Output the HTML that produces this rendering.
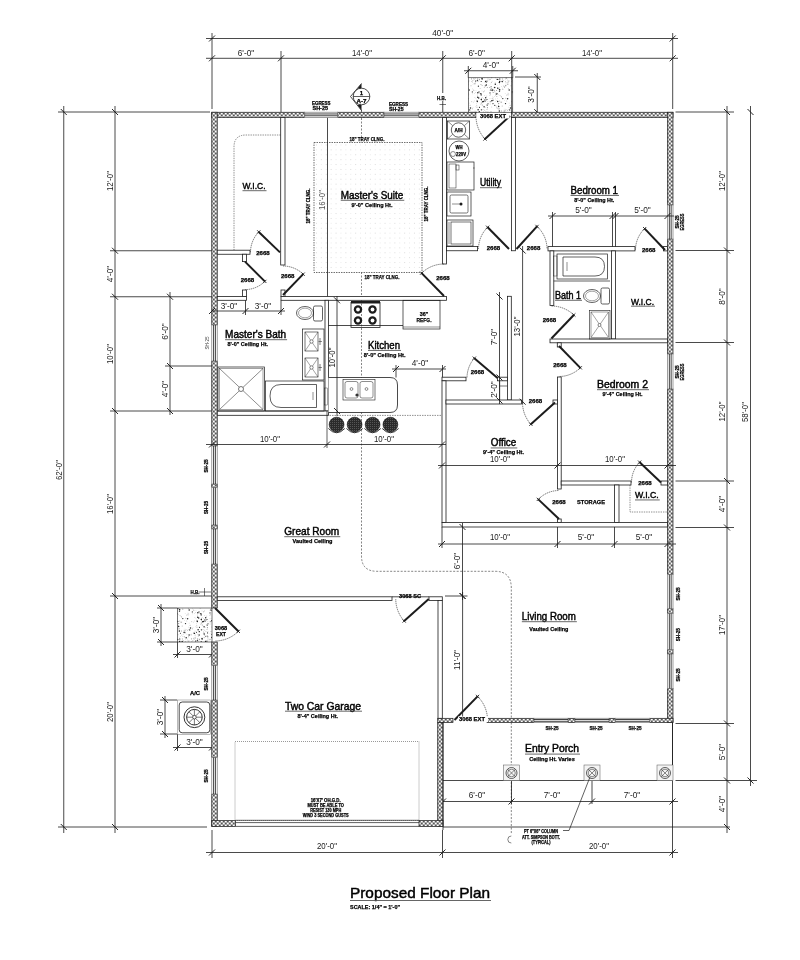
<!DOCTYPE html>
<html><head><meta charset="utf-8"><title>Proposed Floor Plan</title>
<style>html,body{margin:0;padding:0;background:#fff;}svg{display:block;filter:grayscale(1);}text{font-family:"Liberation Sans",sans-serif;}</style>
</head><body>
<svg width="800" height="960" viewBox="0 0 800 960">
<defs>
<pattern id="hatch" patternUnits="userSpaceOnUse" width="4" height="4" x="1.75" y="1.5">
<rect width="4" height="4" fill="#2a2a2a"/>
<circle cx="0" cy="0" r="1.25" fill="#fff"/><circle cx="4" cy="0" r="1.25" fill="#fff"/><circle cx="0" cy="4" r="1.25" fill="#fff"/><circle cx="4" cy="4" r="1.25" fill="#fff"/><circle cx="2" cy="2" r="1.25" fill="#fff"/>
</pattern>
<pattern id="stip" patternUnits="userSpaceOnUse" width="40" height="40">
<rect width="40" height="40" fill="#fff"/><circle cx="9.5" cy="21.8" r="0.4" fill="#aaa"/><circle cx="36.6" cy="19.0" r="0.3" fill="#aaa"/><circle cx="24.2" cy="36.4" r="0.5" fill="#aaa"/><circle cx="10.4" cy="9.4" r="0.5" fill="#aaa"/><circle cx="21.6" cy="22.0" r="0.5" fill="#aaa"/><circle cx="25.6" cy="6.0" r="0.35" fill="#aaa"/><circle cx="34.7" cy="20.9" r="0.3" fill="#aaa"/><circle cx="26.9" cy="2.6" r="0.3" fill="#aaa"/><circle cx="12.1" cy="1.2" r="0.4" fill="#aaa"/><circle cx="18.9" cy="28.8" r="0.5" fill="#aaa"/><circle cx="28.6" cy="36.8" r="0.5" fill="#aaa"/><circle cx="29.1" cy="23.1" r="0.35" fill="#aaa"/><circle cx="35.2" cy="3.9" r="0.35" fill="#aaa"/><circle cx="19.8" cy="10.3" r="0.5" fill="#aaa"/><circle cx="31.2" cy="34.2" r="0.5" fill="#aaa"/><circle cx="20.3" cy="15.4" r="0.4" fill="#aaa"/><circle cx="21.4" cy="16.3" r="0.35" fill="#aaa"/><circle cx="36.2" cy="27.3" r="0.3" fill="#aaa"/><circle cx="34.3" cy="39.6" r="0.35" fill="#aaa"/><circle cx="27.9" cy="13.1" r="0.3" fill="#aaa"/><circle cx="28.6" cy="8.4" r="0.4" fill="#aaa"/><circle cx="11.4" cy="2.5" r="0.5" fill="#aaa"/><circle cx="3.5" cy="32.0" r="0.5" fill="#aaa"/><circle cx="35.9" cy="0.8" r="0.5" fill="#aaa"/><circle cx="30.8" cy="34.9" r="0.3" fill="#aaa"/><circle cx="24.2" cy="30.5" r="0.5" fill="#aaa"/><circle cx="28.7" cy="13.2" r="0.4" fill="#aaa"/><circle cx="20.2" cy="39.9" r="0.4" fill="#aaa"/><circle cx="0.3" cy="4.3" r="0.3" fill="#aaa"/><circle cx="38.0" cy="38.9" r="0.4" fill="#aaa"/><circle cx="24.4" cy="6.2" r="0.3" fill="#aaa"/><circle cx="39.2" cy="13.6" r="0.4" fill="#aaa"/><circle cx="38.3" cy="35.9" r="0.5" fill="#aaa"/><circle cx="15.1" cy="34.8" r="0.5" fill="#aaa"/><circle cx="25.8" cy="23.8" r="0.3" fill="#aaa"/><circle cx="24.8" cy="37.6" r="0.4" fill="#aaa"/><circle cx="17.2" cy="28.8" r="0.35" fill="#aaa"/><circle cx="37.5" cy="17.5" r="0.4" fill="#aaa"/><circle cx="20.8" cy="21.9" r="0.3" fill="#aaa"/><circle cx="31.5" cy="39.5" r="0.4" fill="#aaa"/><circle cx="0.8" cy="24.6" r="0.35" fill="#aaa"/><circle cx="2.4" cy="25.1" r="0.5" fill="#aaa"/><circle cx="14.1" cy="36.7" r="0.4" fill="#aaa"/><circle cx="29.5" cy="0.9" r="0.3" fill="#aaa"/><circle cx="38.2" cy="0.9" r="0.4" fill="#aaa"/><circle cx="10.0" cy="18.3" r="0.4" fill="#aaa"/><circle cx="7.1" cy="7.4" r="0.4" fill="#aaa"/><circle cx="33.8" cy="10.6" r="0.5" fill="#aaa"/><circle cx="4.2" cy="32.5" r="0.35" fill="#aaa"/><circle cx="12.4" cy="8.9" r="0.4" fill="#aaa"/><circle cx="9.5" cy="7.5" r="0.5" fill="#aaa"/><circle cx="26.0" cy="3.9" r="0.4" fill="#aaa"/><circle cx="38.0" cy="27.0" r="0.35" fill="#aaa"/><circle cx="17.5" cy="34.2" r="0.35" fill="#aaa"/><circle cx="3.2" cy="29.7" r="0.35" fill="#aaa"/><circle cx="35.4" cy="18.0" r="0.35" fill="#aaa"/><circle cx="31.5" cy="1.4" r="0.35" fill="#aaa"/><circle cx="12.6" cy="33.4" r="0.35" fill="#aaa"/><circle cx="34.5" cy="13.6" r="0.3" fill="#aaa"/><circle cx="32.3" cy="13.8" r="0.35" fill="#aaa"/><circle cx="16.9" cy="20.7" r="0.4" fill="#aaa"/><circle cx="18.6" cy="25.4" r="0.4" fill="#aaa"/><circle cx="16.8" cy="16.4" r="0.5" fill="#aaa"/><circle cx="6.2" cy="0.2" r="0.5" fill="#aaa"/><circle cx="22.4" cy="39.4" r="0.35" fill="#aaa"/><circle cx="1.3" cy="18.3" r="0.4" fill="#aaa"/><circle cx="21.8" cy="35.6" r="0.3" fill="#aaa"/><circle cx="34.3" cy="38.8" r="0.3" fill="#aaa"/><circle cx="32.4" cy="1.8" r="0.35" fill="#aaa"/><circle cx="35.9" cy="36.0" r="0.3" fill="#aaa"/><circle cx="0.5" cy="29.8" r="0.35" fill="#aaa"/><circle cx="20.1" cy="9.6" r="0.3" fill="#aaa"/><circle cx="21.0" cy="16.6" r="0.3" fill="#aaa"/><circle cx="13.7" cy="10.1" r="0.5" fill="#aaa"/><circle cx="32.5" cy="2.5" r="0.35" fill="#aaa"/><circle cx="7.9" cy="21.4" r="0.3" fill="#aaa"/><circle cx="6.9" cy="31.7" r="0.35" fill="#aaa"/><circle cx="32.9" cy="0.3" r="0.5" fill="#aaa"/><circle cx="2.0" cy="10.9" r="0.4" fill="#aaa"/><circle cx="24.7" cy="20.8" r="0.3" fill="#aaa"/><circle cx="18.9" cy="31.1" r="0.3" fill="#aaa"/><circle cx="34.3" cy="31.0" r="0.3" fill="#aaa"/><circle cx="5.0" cy="2.7" r="0.3" fill="#aaa"/><circle cx="34.2" cy="3.4" r="0.5" fill="#aaa"/><circle cx="12.6" cy="12.6" r="0.4" fill="#aaa"/><circle cx="15.4" cy="15.6" r="0.4" fill="#aaa"/><circle cx="14.4" cy="7.6" r="0.4" fill="#aaa"/><circle cx="17.1" cy="5.1" r="0.3" fill="#aaa"/><circle cx="28.6" cy="15.2" r="0.3" fill="#aaa"/><circle cx="22.7" cy="1.7" r="0.5" fill="#aaa"/><circle cx="24.2" cy="31.3" r="0.5" fill="#aaa"/><circle cx="25.5" cy="1.7" r="0.5" fill="#aaa"/><circle cx="2.1" cy="25.1" r="0.4" fill="#aaa"/><circle cx="16.8" cy="27.8" r="0.5" fill="#aaa"/><circle cx="0.7" cy="8.7" r="0.4" fill="#aaa"/><circle cx="27.8" cy="2.9" r="0.5" fill="#aaa"/><circle cx="9.0" cy="5.2" r="0.3" fill="#aaa"/><circle cx="37.5" cy="15.0" r="0.4" fill="#aaa"/><circle cx="4.9" cy="27.6" r="0.5" fill="#aaa"/><circle cx="26.7" cy="29.3" r="0.3" fill="#aaa"/><circle cx="32.5" cy="28.7" r="0.5" fill="#aaa"/><circle cx="5.7" cy="31.0" r="0.3" fill="#aaa"/><circle cx="21.1" cy="22.6" r="0.5" fill="#aaa"/><circle cx="7.2" cy="0.9" r="0.3" fill="#aaa"/><circle cx="1.0" cy="4.6" r="0.5" fill="#aaa"/><circle cx="33.4" cy="38.1" r="0.4" fill="#aaa"/><circle cx="31.9" cy="1.5" r="0.35" fill="#aaa"/><circle cx="4.3" cy="30.0" r="0.3" fill="#aaa"/><circle cx="22.0" cy="34.8" r="0.35" fill="#aaa"/><circle cx="33.1" cy="9.7" r="0.35" fill="#aaa"/><circle cx="25.8" cy="18.2" r="0.5" fill="#aaa"/><circle cx="10.1" cy="24.0" r="0.4" fill="#aaa"/><circle cx="22.3" cy="38.7" r="0.5" fill="#aaa"/><circle cx="20.0" cy="38.9" r="0.5" fill="#aaa"/><circle cx="33.7" cy="38.7" r="0.5" fill="#aaa"/><circle cx="27.6" cy="30.2" r="0.5" fill="#aaa"/><circle cx="6.2" cy="16.0" r="0.35" fill="#aaa"/><circle cx="6.5" cy="19.9" r="0.5" fill="#aaa"/><circle cx="36.7" cy="20.7" r="0.5" fill="#aaa"/><circle cx="23.5" cy="34.3" r="0.35" fill="#aaa"/><circle cx="10.7" cy="8.0" r="0.4" fill="#aaa"/><circle cx="37.4" cy="34.1" r="0.4" fill="#aaa"/><circle cx="26.9" cy="34.2" r="0.4" fill="#aaa"/><circle cx="35.6" cy="12.3" r="0.4" fill="#aaa"/><circle cx="19.2" cy="15.3" r="0.35" fill="#aaa"/><circle cx="22.8" cy="9.6" r="0.5" fill="#aaa"/><circle cx="31.0" cy="5.7" r="0.5" fill="#aaa"/><circle cx="28.1" cy="8.2" r="0.3" fill="#aaa"/><circle cx="19.3" cy="28.8" r="0.5" fill="#aaa"/><circle cx="31.3" cy="35.3" r="0.3" fill="#aaa"/><circle cx="18.7" cy="9.2" r="0.35" fill="#aaa"/><circle cx="25.9" cy="31.1" r="0.3" fill="#aaa"/><circle cx="38.3" cy="34.2" r="0.35" fill="#aaa"/><circle cx="35.6" cy="31.0" r="0.35" fill="#aaa"/><circle cx="7.5" cy="28.2" r="0.3" fill="#aaa"/><circle cx="36.0" cy="10.2" r="0.3" fill="#aaa"/><circle cx="12.5" cy="16.9" r="0.3" fill="#aaa"/><circle cx="4.7" cy="10.6" r="0.4" fill="#aaa"/><circle cx="1.4" cy="18.1" r="0.4" fill="#aaa"/><circle cx="0.3" cy="13.4" r="0.5" fill="#aaa"/><circle cx="15.2" cy="3.1" r="0.5" fill="#aaa"/><circle cx="15.6" cy="21.8" r="0.3" fill="#aaa"/><circle cx="35.3" cy="3.0" r="0.5" fill="#aaa"/><circle cx="4.5" cy="35.5" r="0.4" fill="#aaa"/><circle cx="3.9" cy="37.7" r="0.4" fill="#aaa"/><circle cx="27.1" cy="14.7" r="0.5" fill="#aaa"/><circle cx="11.8" cy="27.0" r="0.4" fill="#aaa"/><circle cx="4.3" cy="37.8" r="0.4" fill="#aaa"/><circle cx="26.9" cy="21.4" r="0.3" fill="#aaa"/><circle cx="26.7" cy="20.3" r="0.3" fill="#aaa"/><circle cx="28.7" cy="27.1" r="0.35" fill="#aaa"/><circle cx="25.8" cy="29.2" r="0.35" fill="#aaa"/><circle cx="7.2" cy="35.6" r="0.5" fill="#aaa"/><circle cx="4.9" cy="37.3" r="0.35" fill="#aaa"/><circle cx="36.8" cy="25.8" r="0.5" fill="#aaa"/><circle cx="22.2" cy="25.9" r="0.5" fill="#aaa"/><circle cx="19.3" cy="31.3" r="0.3" fill="#aaa"/><circle cx="4.3" cy="7.2" r="0.5" fill="#aaa"/><circle cx="14.4" cy="10.6" r="0.5" fill="#aaa"/><circle cx="2.1" cy="5.5" r="0.5" fill="#aaa"/><circle cx="20.2" cy="9.9" r="0.4" fill="#aaa"/><circle cx="35.0" cy="37.8" r="0.5" fill="#aaa"/><circle cx="21.7" cy="30.9" r="0.4" fill="#aaa"/><circle cx="19.9" cy="39.8" r="0.35" fill="#aaa"/><circle cx="10.8" cy="4.0" r="0.3" fill="#aaa"/><circle cx="22.6" cy="36.4" r="0.3" fill="#aaa"/><circle cx="7.4" cy="7.6" r="0.5" fill="#aaa"/><circle cx="26.8" cy="15.6" r="0.35" fill="#aaa"/><circle cx="23.7" cy="5.9" r="0.5" fill="#aaa"/><circle cx="31.9" cy="21.8" r="0.35" fill="#aaa"/><circle cx="22.7" cy="8.1" r="0.4" fill="#aaa"/><circle cx="14.8" cy="11.7" r="0.5" fill="#aaa"/><circle cx="35.6" cy="38.0" r="0.5" fill="#aaa"/><circle cx="12.6" cy="36.2" r="0.4" fill="#aaa"/><circle cx="25.3" cy="39.1" r="0.4" fill="#aaa"/><circle cx="35.8" cy="26.7" r="0.3" fill="#aaa"/><circle cx="24.1" cy="29.1" r="0.3" fill="#aaa"/><circle cx="4.3" cy="30.2" r="0.35" fill="#aaa"/><circle cx="19.7" cy="20.9" r="0.5" fill="#aaa"/><circle cx="8.0" cy="31.3" r="0.35" fill="#aaa"/><circle cx="1.5" cy="20.0" r="0.5" fill="#aaa"/><circle cx="4.5" cy="11.3" r="0.35" fill="#aaa"/><circle cx="5.4" cy="31.7" r="0.3" fill="#aaa"/><circle cx="1.0" cy="24.7" r="0.3" fill="#aaa"/><circle cx="19.9" cy="0.8" r="0.4" fill="#aaa"/><circle cx="12.9" cy="34.8" r="0.35" fill="#aaa"/><circle cx="3.2" cy="33.6" r="0.3" fill="#aaa"/><circle cx="28.6" cy="29.6" r="0.4" fill="#aaa"/><circle cx="39.9" cy="8.2" r="0.3" fill="#aaa"/><circle cx="34.5" cy="17.5" r="0.35" fill="#aaa"/><circle cx="19.4" cy="4.4" r="0.3" fill="#aaa"/><circle cx="16.3" cy="33.8" r="0.35" fill="#aaa"/><circle cx="15.7" cy="18.9" r="0.3" fill="#aaa"/><circle cx="21.5" cy="16.9" r="0.5" fill="#aaa"/><circle cx="12.2" cy="18.6" r="0.5" fill="#aaa"/><circle cx="17.5" cy="18.2" r="0.3" fill="#aaa"/><circle cx="28.8" cy="14.7" r="0.4" fill="#aaa"/><circle cx="17.9" cy="14.5" r="0.5" fill="#aaa"/><circle cx="9.0" cy="0.1" r="0.35" fill="#aaa"/><circle cx="10.3" cy="14.8" r="0.5" fill="#aaa"/><circle cx="21.4" cy="6.4" r="0.3" fill="#aaa"/><circle cx="6.8" cy="16.1" r="0.35" fill="#aaa"/><circle cx="25.5" cy="5.6" r="0.35" fill="#aaa"/><circle cx="17.7" cy="7.4" r="0.3" fill="#aaa"/><circle cx="16.1" cy="12.7" r="0.3" fill="#aaa"/><circle cx="28.1" cy="2.0" r="0.5" fill="#aaa"/><circle cx="1.6" cy="19.7" r="0.35" fill="#aaa"/><circle cx="9.7" cy="15.6" r="0.35" fill="#aaa"/><circle cx="6.6" cy="24.9" r="0.4" fill="#aaa"/><circle cx="36.5" cy="23.8" r="0.4" fill="#aaa"/><circle cx="11.0" cy="31.5" r="0.5" fill="#aaa"/><circle cx="31.6" cy="38.5" r="0.5" fill="#aaa"/><circle cx="10.0" cy="10.6" r="0.4" fill="#aaa"/><circle cx="25.2" cy="13.8" r="0.3" fill="#aaa"/><circle cx="2.3" cy="17.4" r="0.3" fill="#aaa"/><circle cx="23.7" cy="0.1" r="0.3" fill="#aaa"/><circle cx="27.2" cy="0.8" r="0.3" fill="#aaa"/><circle cx="19.3" cy="7.6" r="0.4" fill="#aaa"/><circle cx="8.0" cy="39.0" r="0.5" fill="#aaa"/><circle cx="13.6" cy="19.1" r="0.4" fill="#aaa"/><circle cx="37.6" cy="1.4" r="0.4" fill="#aaa"/><circle cx="30.1" cy="25.3" r="0.5" fill="#aaa"/><circle cx="3.5" cy="11.7" r="0.5" fill="#aaa"/><circle cx="4.6" cy="15.6" r="0.4" fill="#aaa"/><circle cx="21.5" cy="31.1" r="0.5" fill="#aaa"/><circle cx="7.0" cy="29.6" r="0.5" fill="#aaa"/><circle cx="33.4" cy="22.1" r="0.35" fill="#aaa"/><circle cx="14.5" cy="16.6" r="0.35" fill="#aaa"/><circle cx="17.8" cy="28.1" r="0.4" fill="#aaa"/><circle cx="10.8" cy="6.8" r="0.5" fill="#aaa"/><circle cx="38.0" cy="1.7" r="0.35" fill="#aaa"/><circle cx="28.4" cy="0.9" r="0.5" fill="#aaa"/><circle cx="3.7" cy="27.7" r="0.3" fill="#aaa"/><circle cx="12.8" cy="24.0" r="0.3" fill="#aaa"/><circle cx="35.1" cy="34.9" r="0.5" fill="#aaa"/><circle cx="18.7" cy="34.8" r="0.4" fill="#aaa"/><circle cx="39.9" cy="0.1" r="0.35" fill="#aaa"/><circle cx="16.0" cy="38.2" r="0.3" fill="#aaa"/><circle cx="13.5" cy="12.5" r="0.5" fill="#aaa"/><circle cx="3.2" cy="26.0" r="0.35" fill="#aaa"/><circle cx="27.5" cy="39.1" r="0.35" fill="#aaa"/><circle cx="23.4" cy="0.5" r="0.35" fill="#aaa"/><circle cx="11.5" cy="8.4" r="0.5" fill="#aaa"/><circle cx="20.2" cy="36.3" r="0.4" fill="#aaa"/><circle cx="31.5" cy="21.4" r="0.35" fill="#aaa"/><circle cx="18.7" cy="24.9" r="0.3" fill="#aaa"/><circle cx="33.0" cy="4.5" r="0.3" fill="#aaa"/><circle cx="34.4" cy="4.1" r="0.4" fill="#aaa"/><circle cx="3.4" cy="18.6" r="0.35" fill="#aaa"/><circle cx="33.0" cy="27.2" r="0.3" fill="#aaa"/><circle cx="25.7" cy="30.5" r="0.4" fill="#aaa"/><circle cx="16.1" cy="26.4" r="0.3" fill="#aaa"/><circle cx="11.7" cy="37.8" r="0.5" fill="#aaa"/><circle cx="32.6" cy="8.2" r="0.3" fill="#aaa"/><circle cx="18.6" cy="29.1" r="0.3" fill="#aaa"/><circle cx="13.7" cy="7.7" r="0.3" fill="#aaa"/><circle cx="37.0" cy="27.5" r="0.4" fill="#aaa"/><circle cx="16.9" cy="25.9" r="0.35" fill="#aaa"/><circle cx="10.0" cy="33.5" r="0.3" fill="#aaa"/><circle cx="13.4" cy="17.2" r="0.3" fill="#aaa"/><circle cx="10.0" cy="12.9" r="0.55" fill="#222"/><circle cx="29.1" cy="35.0" r="0.75" fill="#222"/><circle cx="37.3" cy="21.4" r="0.75" fill="#222"/><circle cx="14.7" cy="7.6" r="0.75" fill="#222"/><circle cx="19.4" cy="30.9" r="0.75" fill="#222"/><circle cx="18.8" cy="23.5" r="0.45" fill="#222"/><circle cx="11.7" cy="37.4" r="0.55" fill="#222"/><circle cx="35.7" cy="1.1" r="0.55" fill="#222"/><circle cx="11.8" cy="20.8" r="0.75" fill="#222"/><circle cx="1.6" cy="29.8" r="0.65" fill="#222"/><circle cx="19.7" cy="1.5" r="0.75" fill="#222"/><circle cx="29.7" cy="29.9" r="0.65" fill="#222"/><circle cx="5.7" cy="17.8" r="0.75" fill="#222"/><circle cx="17.8" cy="8.2" r="0.75" fill="#222"/><circle cx="30.5" cy="28.0" r="0.75" fill="#222"/><circle cx="39.2" cy="35.0" r="0.65" fill="#222"/><circle cx="37.7" cy="17.3" r="0.75" fill="#222"/><circle cx="19.0" cy="39.9" r="0.55" fill="#222"/><circle cx="14.4" cy="34.1" r="0.65" fill="#222"/><circle cx="1.2" cy="14.9" r="0.65" fill="#222"/><circle cx="32.3" cy="11.9" r="0.55" fill="#222"/><circle cx="37.2" cy="20.8" r="0.45" fill="#222"/><circle cx="5.3" cy="21.2" r="0.45" fill="#222"/><circle cx="6.6" cy="2.0" r="0.55" fill="#222"/><circle cx="39.3" cy="31.7" r="0.65" fill="#222"/><circle cx="39.2" cy="31.4" r="0.45" fill="#222"/><circle cx="19.6" cy="9.5" r="0.65" fill="#222"/><circle cx="17.3" cy="13.5" r="0.45" fill="#222"/><circle cx="24.1" cy="32.4" r="0.75" fill="#222"/><circle cx="12.5" cy="9.9" r="0.75" fill="#222"/><circle cx="16.7" cy="10.4" r="0.45" fill="#222"/><circle cx="1.2" cy="1.5" r="0.55" fill="#222"/><circle cx="36.5" cy="32.3" r="0.55" fill="#222"/><circle cx="38.1" cy="29.7" r="0.75" fill="#222"/><circle cx="20.4" cy="33.2" r="0.55" fill="#222"/><circle cx="11.2" cy="6.7" r="0.45" fill="#222"/><circle cx="19.4" cy="2.4" r="0.75" fill="#222"/><circle cx="18.7" cy="26.6" r="0.75" fill="#222"/><circle cx="14.8" cy="25.3" r="0.65" fill="#222"/><circle cx="7.3" cy="27.4" r="0.45" fill="#222"/><circle cx="16.3" cy="14.1" r="0.75" fill="#222"/><circle cx="11.1" cy="10.2" r="0.65" fill="#222"/><circle cx="38.4" cy="6.2" r="0.65" fill="#222"/><circle cx="5.6" cy="1.5" r="0.75" fill="#222"/><circle cx="34.0" cy="33.1" r="0.65" fill="#222"/><circle cx="1.2" cy="23.0" r="0.45" fill="#222"/><circle cx="19.5" cy="11.2" r="0.65" fill="#222"/><circle cx="4.1" cy="26.7" r="0.65" fill="#222"/><circle cx="1.3" cy="19.5" r="0.75" fill="#222"/><circle cx="7.8" cy="36.8" r="0.55" fill="#222"/><circle cx="26.2" cy="37.7" r="0.75" fill="#222"/><circle cx="12.6" cy="10.8" r="0.45" fill="#222"/><circle cx="37.8" cy="12.7" r="0.75" fill="#222"/><circle cx="22.2" cy="1.4" r="0.75" fill="#222"/><circle cx="10.0" cy="39.2" r="0.45" fill="#222"/><circle cx="19.8" cy="38.3" r="0.45" fill="#222"/><circle cx="27.9" cy="4.6" r="0.45" fill="#222"/><circle cx="25.2" cy="32.7" r="0.45" fill="#222"/><circle cx="37.7" cy="39.0" r="0.45" fill="#222"/><circle cx="17.3" cy="39.4" r="0.75" fill="#222"/><circle cx="10.7" cy="21.8" r="0.45" fill="#222"/><circle cx="7.0" cy="19.5" r="0.55" fill="#222"/><circle cx="5.8" cy="36.2" r="0.55" fill="#222"/><circle cx="27.6" cy="18.7" r="0.75" fill="#222"/><circle cx="25.9" cy="5.7" r="0.45" fill="#222"/><circle cx="7.2" cy="25.1" r="0.65" fill="#222"/><circle cx="7.6" cy="32.9" r="0.55" fill="#222"/><circle cx="2.0" cy="38.4" r="0.55" fill="#222"/><circle cx="15.3" cy="4.3" r="0.75" fill="#222"/><circle cx="7.3" cy="1.1" r="0.45" fill="#222"/><circle cx="5.3" cy="5.8" r="0.55" fill="#222"/><circle cx="15.3" cy="37.5" r="0.45" fill="#222"/><circle cx="37.4" cy="0.3" r="0.65" fill="#222"/><circle cx="39.9" cy="39.2" r="0.55" fill="#222"/><circle cx="2.6" cy="21.8" r="0.75" fill="#222"/><circle cx="4.2" cy="33.9" r="0.75" fill="#222"/><circle cx="0.9" cy="13.8" r="0.75" fill="#222"/><circle cx="22.8" cy="18.6" r="0.65" fill="#222"/><circle cx="17.7" cy="21.4" r="0.75" fill="#222"/><circle cx="8.0" cy="23.8" r="0.55" fill="#222"/><circle cx="12.0" cy="34.4" r="0.55" fill="#222"/><circle cx="12.7" cy="33.6" r="0.55" fill="#222"/><circle cx="2.1" cy="39.1" r="0.75" fill="#222"/><circle cx="24.6" cy="7.1" r="0.45" fill="#222"/><circle cx="6.3" cy="4.9" r="0.75" fill="#222"/><circle cx="39.7" cy="27.4" r="0.65" fill="#222"/><circle cx="3.7" cy="21.6" r="0.75" fill="#222"/><circle cx="13.0" cy="23.6" r="0.55" fill="#222"/><circle cx="12.9" cy="20.3" r="0.65" fill="#222"/><circle cx="25.5" cy="23.6" r="0.65" fill="#222"/><circle cx="34.5" cy="33.4" r="0.65" fill="#222"/><circle cx="39.0" cy="11.9" r="0.55" fill="#222"/><circle cx="4.9" cy="20.0" r="0.65" fill="#222"/><circle cx="29.2" cy="9.9" r="0.75" fill="#222"/><circle cx="38.7" cy="18.1" r="0.75" fill="#222"/>
</pattern>
<pattern id="dots" patternUnits="userSpaceOnUse" width="9.8" height="9.8" x="314" y="142.5">
<rect width="9.8" height="9.8" fill="#fff"/>
<circle cx="2.5" cy="2.5" r="0.45" fill="#bbb"/><circle cx="7.4" cy="7.4" r="0.45" fill="#bbb"/>
<circle cx="7.4" cy="2.5" r="0.4" fill="#ccc"/><circle cx="2.5" cy="7.4" r="0.4" fill="#ccc"/>
</pattern>
<pattern id="stool" patternUnits="userSpaceOnUse" width="2" height="2">
<rect width="2" height="2" fill="#2a2a2a"/><rect width="1" height="1" fill="#555"/>
</pattern>
</defs>
<rect width="800" height="960" fill="#fff"/>
<rect x="468.3" y="77.75" width="44.45" height="34.5" fill="url(#stip)" stroke="#1c1c1c" stroke-width="0.6"/>
<rect x="177.5" y="608" width="34.5" height="34" fill="url(#stip)" stroke="#1c1c1c" stroke-width="0.6"/>
<line x1="157" y1="608" x2="177" y2="608" stroke="#1c1c1c" stroke-width="0.8"/>
<line x1="157" y1="642" x2="177" y2="642" stroke="#1c1c1c" stroke-width="0.8"/>
<line x1="161" y1="604" x2="161" y2="646" stroke="#1c1c1c" stroke-width="0.8"/>
<line x1="158.0" y1="605.0" x2="164.0" y2="611.0" stroke="#1c1c1c" stroke-width="0.95"/>
<line x1="158.0" y1="639.0" x2="164.0" y2="645.0" stroke="#1c1c1c" stroke-width="0.95"/>
<text x="158.5" y="625" font-family="Liberation Sans" font-size="8.5" font-weight="normal" text-anchor="middle" fill="#1c1c1c" transform="rotate(-90 158.5 625)" textLength="16.5" lengthAdjust="spacingAndGlyphs">3'-0"</text>
<line x1="177.5" y1="642" x2="177.5" y2="658" stroke="#1c1c1c" stroke-width="0.8"/>
<line x1="173" y1="654.5" x2="215" y2="654.5" stroke="#1c1c1c" stroke-width="0.8"/>
<line x1="174.5" y1="657.5" x2="180.5" y2="651.5" stroke="#1c1c1c" stroke-width="0.95"/>
<line x1="209.0" y1="657.5" x2="215.0" y2="651.5" stroke="#1c1c1c" stroke-width="0.95"/>
<text x="194.5" y="651.5" font-family="Liberation Sans" font-size="8.5" font-weight="normal" text-anchor="middle" fill="#1c1c1c" textLength="16.5" lengthAdjust="spacingAndGlyphs">3'-0"</text>
<line x1="160" y1="700" x2="177" y2="700" stroke="#1c1c1c" stroke-width="0.8"/>
<line x1="160" y1="734" x2="177" y2="734" stroke="#1c1c1c" stroke-width="0.8"/>
<line x1="165" y1="696" x2="165" y2="738" stroke="#1c1c1c" stroke-width="0.8"/>
<line x1="162.0" y1="697.0" x2="168.0" y2="703.0" stroke="#1c1c1c" stroke-width="0.95"/>
<line x1="162.0" y1="731.0" x2="168.0" y2="737.0" stroke="#1c1c1c" stroke-width="0.95"/>
<text x="162.5" y="717" font-family="Liberation Sans" font-size="8.5" font-weight="normal" text-anchor="middle" fill="#1c1c1c" transform="rotate(-90 162.5 717)" textLength="16.5" lengthAdjust="spacingAndGlyphs">3'-0"</text>
<line x1="177.5" y1="734" x2="177.5" y2="751" stroke="#1c1c1c" stroke-width="0.8"/>
<line x1="173" y1="747.5" x2="215" y2="747.5" stroke="#1c1c1c" stroke-width="0.8"/>
<line x1="174.5" y1="750.5" x2="180.5" y2="744.5" stroke="#1c1c1c" stroke-width="0.95"/>
<line x1="209.0" y1="750.5" x2="215.0" y2="744.5" stroke="#1c1c1c" stroke-width="0.95"/>
<text x="194.5" y="744.5" font-family="Liberation Sans" font-size="8.5" font-weight="normal" text-anchor="middle" fill="#1c1c1c" textLength="16.5" lengthAdjust="spacingAndGlyphs">3'-0"</text>
<rect x="177.5" y="700" width="33.0" height="34.5" fill="none" stroke="#777" stroke-width="0.5"/>
<rect x="179.2" y="702" width="30.600000000000023" height="30.799999999999955" fill="none" stroke="#1c1c1c" stroke-width="0.8" rx="3"/>
<circle cx="194.4" cy="717.2" r="10.4" fill="none" stroke="#1c1c1c" stroke-width="0.9"/>
<circle cx="194.4" cy="717.2" r="7.8" fill="none" stroke="#1c1c1c" stroke-width="0.9"/>
<circle cx="194.4" cy="717.2" r="1.8" fill="none" stroke="#1c1c1c" stroke-width="0.7"/>
<line x1="196.2" y1="717.2" x2="202.2" y2="717.2" stroke="#1c1c1c" stroke-width="0.6"/>
<line x1="195.67" y1="718.47" x2="199.92" y2="722.72" stroke="#1c1c1c" stroke-width="0.6"/>
<line x1="194.4" y1="719.0" x2="194.4" y2="725.0" stroke="#1c1c1c" stroke-width="0.6"/>
<line x1="193.13" y1="718.47" x2="188.88" y2="722.72" stroke="#1c1c1c" stroke-width="0.6"/>
<line x1="192.6" y1="717.2" x2="186.6" y2="717.2" stroke="#1c1c1c" stroke-width="0.6"/>
<line x1="193.13" y1="715.93" x2="188.88" y2="711.68" stroke="#1c1c1c" stroke-width="0.6"/>
<line x1="194.4" y1="715.4" x2="194.4" y2="709.4" stroke="#1c1c1c" stroke-width="0.6"/>
<line x1="195.67" y1="715.93" x2="199.92" y2="711.68" stroke="#1c1c1c" stroke-width="0.6"/>
<text x="195" y="694.5" font-family="Liberation Sans" font-size="6" font-weight="bold" text-anchor="middle" fill="#000" textLength="10" lengthAdjust="spacingAndGlyphs" stroke="#000" stroke-width="0.25">A/C</text>
<text x="195" y="594" font-family="Liberation Sans" font-size="6" font-weight="bold" text-anchor="middle" fill="#000" textLength="9" lengthAdjust="spacingAndGlyphs" stroke="#000" stroke-width="0.25">H.B.</text>
<line x1="198.5" y1="592" x2="211" y2="592" stroke="#1c1c1c" stroke-width="0.6"/>
<line x1="204.5" y1="588" x2="204.5" y2="596" stroke="#1c1c1c" stroke-width="0.6"/>
<line x1="361.5" y1="110" x2="361.5" y2="118" stroke="#1c1c1c" stroke-width="0.6"/>
<polyline points="361.5,83.5 350.5,96.5 361.5,110.5" fill="none" stroke="#1c1c1c" stroke-width="0.8"/>
<polygon points="361.5,83.5 361.5,89 357.5,88.5" fill="#1c1c1c"/>
<polygon points="361.5,110.5 361.5,104.5 357.5,105" fill="#1c1c1c"/>
<circle cx="361.5" cy="96.5" r="8.3" fill="#fff" stroke="#1c1c1c" stroke-width="0.8"/>
<line x1="353.2" y1="96.5" x2="369.8" y2="96.5" stroke="#1c1c1c" stroke-width="0.7"/>
<text x="361.5" y="95" font-family="Liberation Sans" font-size="6" font-weight="bold" text-anchor="middle" fill="#000" stroke="#000" stroke-width="0.25">1</text>
<text x="361.5" y="103.3" font-family="Liberation Sans" font-size="5.5" font-weight="bold" text-anchor="middle" fill="#000" textLength="10" lengthAdjust="spacingAndGlyphs" stroke="#000" stroke-width="0.25">A-7</text>
<path d="M361.5,118 L361.5,556 Q361.5,571.3 377,571.3 L495,571.3 Q511.3,571.3 511.3,588 L511.3,834" fill="none" stroke="#333" stroke-width="0.6" stroke-dasharray="2,1.5"/>
<text x="312" y="105" font-family="Liberation Sans" font-size="5" font-weight="bold" text-anchor="start" fill="#000" textLength="18.5" lengthAdjust="spacingAndGlyphs" stroke="#000" stroke-width="0.25">EGRESS</text>
<text x="312.5" y="110" font-family="Liberation Sans" font-size="5" font-weight="bold" text-anchor="start" fill="#000" textLength="15.5" lengthAdjust="spacingAndGlyphs" stroke="#000" stroke-width="0.25">SH-25</text>
<text x="389" y="105.5" font-family="Liberation Sans" font-size="5" font-weight="bold" text-anchor="start" fill="#000" textLength="19" lengthAdjust="spacingAndGlyphs" stroke="#000" stroke-width="0.25">EGRESS</text>
<text x="389" y="110.5" font-family="Liberation Sans" font-size="5" font-weight="bold" text-anchor="start" fill="#000" textLength="14.5" lengthAdjust="spacingAndGlyphs" stroke="#000" stroke-width="0.25">SH-25</text>
<rect x="314" y="142.5" width="108" height="130" fill="url(#dots)" stroke="#333" stroke-width="0.7" stroke-dasharray="1.5,1"/>
<text x="367" y="140.5" font-family="Liberation Sans" font-size="5.5" font-weight="bold" text-anchor="middle" fill="#000" textLength="35" lengthAdjust="spacingAndGlyphs" stroke="#000" stroke-width="0.25">18" TRAY CLNG.</text>
<text x="382" y="278.5" font-family="Liberation Sans" font-size="5.5" font-weight="bold" text-anchor="middle" fill="#000" textLength="35" lengthAdjust="spacingAndGlyphs" stroke="#000" stroke-width="0.25">18" TRAY CLNG.</text>
<text x="309.5" y="206" font-family="Liberation Sans" font-size="5.5" font-weight="bold" text-anchor="middle" fill="#000" transform="rotate(-90 309.5 206)" textLength="35" lengthAdjust="spacingAndGlyphs" stroke="#000" stroke-width="0.25">18" TRAY CLNG.</text>
<text x="427.5" y="204" font-family="Liberation Sans" font-size="5.5" font-weight="bold" text-anchor="middle" fill="#000" transform="rotate(-90 427.5 204)" textLength="35" lengthAdjust="spacingAndGlyphs" stroke="#000" stroke-width="0.25">18" TRAY CLNG.</text>
<line x1="327.5" y1="117.5" x2="327.5" y2="296.5" stroke="#1c1c1c" stroke-width="0.8"/>
<text x="325" y="200" font-family="Liberation Sans" font-size="8.5" font-weight="normal" text-anchor="middle" fill="#555" transform="rotate(-90 325 200)" textLength="20" lengthAdjust="spacingAndGlyphs">16'-0"</text>
<path d="M280.7,135 L246,135 Q234,135 234,147 L234,250.2" fill="none" stroke="#333" stroke-width="0.55" stroke-dasharray="1.4,1"/>
<path d="M630,485 L630,512 L667.5,512" fill="none" stroke="#333" stroke-width="0.55" stroke-dasharray="1.4,1"/>
<path d="M511.3,836 A3.5,3.5 0 0 0 511.3,843" fill="none" stroke="#333" stroke-width="0.6"/>
<line x1="206" y1="38.5" x2="678" y2="38.5" stroke="#1c1c1c" stroke-width="0.8"/>
<line x1="209.0" y1="41.5" x2="215.0" y2="35.5" stroke="#1c1c1c" stroke-width="0.95"/>
<line x1="669.7" y1="41.5" x2="675.7" y2="35.5" stroke="#1c1c1c" stroke-width="0.95"/>
<text x="442.75" y="35.8" font-family="Liberation Sans" font-size="8.5" font-weight="normal" text-anchor="middle" fill="#1c1c1c" textLength="21" lengthAdjust="spacingAndGlyphs">40'-0"</text>
<line x1="206" y1="58.3" x2="678" y2="58.3" stroke="#1c1c1c" stroke-width="0.8"/>
<line x1="209.0" y1="61.3" x2="215.0" y2="55.3" stroke="#1c1c1c" stroke-width="0.95"/>
<line x1="278.0" y1="61.3" x2="284.0" y2="55.3" stroke="#1c1c1c" stroke-width="0.95"/>
<line x1="439.75" y1="61.3" x2="445.75" y2="55.3" stroke="#1c1c1c" stroke-width="0.95"/>
<line x1="508.7" y1="61.3" x2="514.7" y2="55.3" stroke="#1c1c1c" stroke-width="0.95"/>
<line x1="669.7" y1="61.3" x2="675.7" y2="55.3" stroke="#1c1c1c" stroke-width="0.95"/>
<text x="246" y="55.8" font-family="Liberation Sans" font-size="8.5" font-weight="normal" text-anchor="middle" fill="#1c1c1c" textLength="16.5" lengthAdjust="spacingAndGlyphs">6'-0"</text>
<text x="362" y="55.8" font-family="Liberation Sans" font-size="8.5" font-weight="normal" text-anchor="middle" fill="#1c1c1c" textLength="20" lengthAdjust="spacingAndGlyphs">14'-0"</text>
<text x="476.7" y="55.8" font-family="Liberation Sans" font-size="8.5" font-weight="normal" text-anchor="middle" fill="#1c1c1c" textLength="16.5" lengthAdjust="spacingAndGlyphs">6'-0"</text>
<text x="592" y="55.8" font-family="Liberation Sans" font-size="8.5" font-weight="normal" text-anchor="middle" fill="#1c1c1c" textLength="20" lengthAdjust="spacingAndGlyphs">14'-0"</text>
<line x1="212" y1="33" x2="212" y2="109" stroke="#1c1c1c" stroke-width="0.8"/>
<line x1="672.7" y1="33" x2="672.7" y2="109" stroke="#1c1c1c" stroke-width="0.8"/>
<line x1="281" y1="51" x2="281" y2="112.2" stroke="#1c1c1c" stroke-width="0.8"/>
<line x1="442.75" y1="51" x2="442.75" y2="93" stroke="#1c1c1c" stroke-width="0.8"/>
<line x1="511.7" y1="51" x2="511.7" y2="112.2" stroke="#1c1c1c" stroke-width="0.8"/>
<line x1="464" y1="70.75" x2="518" y2="70.75" stroke="#1c1c1c" stroke-width="0.8"/>
<line x1="465.3" y1="73.75" x2="471.3" y2="67.75" stroke="#1c1c1c" stroke-width="0.95"/>
<line x1="509.75" y1="73.75" x2="515.75" y2="67.75" stroke="#1c1c1c" stroke-width="0.95"/>
<text x="490.9" y="67.6" font-family="Liberation Sans" font-size="8.5" font-weight="normal" text-anchor="middle" fill="#1c1c1c" textLength="16.5" lengthAdjust="spacingAndGlyphs">4'-0"</text>
<line x1="512.75" y1="66" x2="512.75" y2="77.75" stroke="#1c1c1c" stroke-width="0.8"/>
<line x1="468.3" y1="66" x2="468.3" y2="77.75" stroke="#1c1c1c" stroke-width="0.8"/>
<line x1="515" y1="77" x2="541" y2="77" stroke="#1c1c1c" stroke-width="0.8"/>
<line x1="537.25" y1="73" x2="537.25" y2="115" stroke="#1c1c1c" stroke-width="0.8"/>
<line x1="534.25" y1="74.0" x2="540.25" y2="80.0" stroke="#1c1c1c" stroke-width="0.95"/>
<line x1="534.25" y1="109.2" x2="540.25" y2="115.2" stroke="#1c1c1c" stroke-width="0.95"/>
<text x="534" y="94.5" font-family="Liberation Sans" font-size="8.5" font-weight="normal" text-anchor="middle" fill="#1c1c1c" transform="rotate(-90 534 94.5)" textLength="16.5" lengthAdjust="spacingAndGlyphs">3'-0"</text>
<text x="441.5" y="99.5" font-family="Liberation Sans" font-size="6" font-weight="bold" text-anchor="middle" fill="#000" textLength="9" lengthAdjust="spacingAndGlyphs" stroke="#000" stroke-width="0.25">H.B.</text>
<line x1="442.75" y1="101" x2="442.75" y2="112" stroke="#1c1c1c" stroke-width="0.8"/>
<line x1="439.5" y1="104.5" x2="446" y2="104.5" stroke="#1c1c1c" stroke-width="0.6"/>
<line x1="63.75" y1="106" x2="63.75" y2="833" stroke="#1c1c1c" stroke-width="0.8"/>
<line x1="60.75" y1="109.0" x2="66.75" y2="115.0" stroke="#1c1c1c" stroke-width="0.95"/>
<line x1="60.75" y1="824.0" x2="66.75" y2="830.0" stroke="#1c1c1c" stroke-width="0.95"/>
<text x="61.5" y="470" font-family="Liberation Sans" font-size="8.5" font-weight="normal" text-anchor="middle" fill="#1c1c1c" transform="rotate(-90 61.5 470)" textLength="20" lengthAdjust="spacingAndGlyphs">62'-0"</text>
<line x1="58" y1="112" x2="210" y2="112" stroke="#1c1c1c" stroke-width="0.8"/>
<line x1="115" y1="106" x2="115" y2="833" stroke="#1c1c1c" stroke-width="0.8"/>
<line x1="112.0" y1="109.0" x2="118.0" y2="115.0" stroke="#1c1c1c" stroke-width="0.95"/>
<line x1="112.0" y1="247.75" x2="118.0" y2="253.75" stroke="#1c1c1c" stroke-width="0.95"/>
<line x1="112.0" y1="293.75" x2="118.0" y2="299.75" stroke="#1c1c1c" stroke-width="0.95"/>
<line x1="112.0" y1="408.0" x2="118.0" y2="414.0" stroke="#1c1c1c" stroke-width="0.95"/>
<line x1="112.0" y1="593.0" x2="118.0" y2="599.0" stroke="#1c1c1c" stroke-width="0.95"/>
<line x1="112.0" y1="824.0" x2="118.0" y2="830.0" stroke="#1c1c1c" stroke-width="0.95"/>
<text x="112.5" y="181" font-family="Liberation Sans" font-size="8.5" font-weight="normal" text-anchor="middle" fill="#1c1c1c" transform="rotate(-90 112.5 181)" textLength="20" lengthAdjust="spacingAndGlyphs">12'-0"</text>
<text x="112.5" y="274" font-family="Liberation Sans" font-size="8.5" font-weight="normal" text-anchor="middle" fill="#1c1c1c" transform="rotate(-90 112.5 274)" textLength="16.5" lengthAdjust="spacingAndGlyphs">4'-0"</text>
<text x="112.5" y="354" font-family="Liberation Sans" font-size="8.5" font-weight="normal" text-anchor="middle" fill="#1c1c1c" transform="rotate(-90 112.5 354)" textLength="20" lengthAdjust="spacingAndGlyphs">10'-0"</text>
<text x="112.5" y="504" font-family="Liberation Sans" font-size="8.5" font-weight="normal" text-anchor="middle" fill="#1c1c1c" transform="rotate(-90 112.5 504)" textLength="20" lengthAdjust="spacingAndGlyphs">16'-0"</text>
<text x="112.5" y="712" font-family="Liberation Sans" font-size="8.5" font-weight="normal" text-anchor="middle" fill="#1c1c1c" transform="rotate(-90 112.5 712)" textLength="20" lengthAdjust="spacingAndGlyphs">20'-0"</text>
<line x1="110" y1="250.75" x2="212" y2="250.75" stroke="#1c1c1c" stroke-width="0.8"/>
<line x1="110" y1="296.75" x2="212" y2="296.75" stroke="#1c1c1c" stroke-width="0.8"/>
<line x1="110" y1="411" x2="212" y2="411" stroke="#1c1c1c" stroke-width="0.8"/>
<line x1="110" y1="596" x2="212" y2="596" stroke="#1c1c1c" stroke-width="0.8"/>
<line x1="58" y1="827" x2="207" y2="827" stroke="#1c1c1c" stroke-width="0.8"/>
<line x1="170" y1="292" x2="170" y2="415" stroke="#1c1c1c" stroke-width="0.8"/>
<line x1="167.0" y1="293.75" x2="173.0" y2="299.75" stroke="#1c1c1c" stroke-width="0.95"/>
<line x1="167.0" y1="363.0" x2="173.0" y2="369.0" stroke="#1c1c1c" stroke-width="0.95"/>
<line x1="167.0" y1="408.0" x2="173.0" y2="414.0" stroke="#1c1c1c" stroke-width="0.95"/>
<line x1="165" y1="366" x2="212" y2="366" stroke="#1c1c1c" stroke-width="0.8"/>
<text x="167.5" y="331.5" font-family="Liberation Sans" font-size="8.5" font-weight="normal" text-anchor="middle" fill="#1c1c1c" transform="rotate(-90 167.5 331.5)" textLength="16.5" lengthAdjust="spacingAndGlyphs">6'-0"</text>
<text x="167.5" y="389" font-family="Liberation Sans" font-size="8.5" font-weight="normal" text-anchor="middle" fill="#1c1c1c" transform="rotate(-90 167.5 389)" textLength="16.5" lengthAdjust="spacingAndGlyphs">4'-0"</text>
<line x1="675.5" y1="112" x2="734" y2="112" stroke="#1c1c1c" stroke-width="0.8"/>
<line x1="675.5" y1="250.5" x2="734" y2="250.5" stroke="#1c1c1c" stroke-width="0.8"/>
<line x1="675.5" y1="342.5" x2="734" y2="342.5" stroke="#1c1c1c" stroke-width="0.8"/>
<line x1="675.5" y1="481" x2="734" y2="481" stroke="#1c1c1c" stroke-width="0.8"/>
<line x1="675.5" y1="527.5" x2="734" y2="527.5" stroke="#1c1c1c" stroke-width="0.8"/>
<line x1="675.5" y1="723.5" x2="734" y2="723.5" stroke="#1c1c1c" stroke-width="0.8"/>
<line x1="675.5" y1="780.5" x2="757" y2="780.5" stroke="#1c1c1c" stroke-width="0.8"/>
<line x1="727" y1="106" x2="727" y2="833" stroke="#1c1c1c" stroke-width="0.8"/>
<line x1="724.0" y1="109.0" x2="730.0" y2="115.0" stroke="#1c1c1c" stroke-width="0.95"/>
<line x1="724.0" y1="247.5" x2="730.0" y2="253.5" stroke="#1c1c1c" stroke-width="0.95"/>
<line x1="724.0" y1="339.5" x2="730.0" y2="345.5" stroke="#1c1c1c" stroke-width="0.95"/>
<line x1="724.0" y1="478.0" x2="730.0" y2="484.0" stroke="#1c1c1c" stroke-width="0.95"/>
<line x1="724.0" y1="524.5" x2="730.0" y2="530.5" stroke="#1c1c1c" stroke-width="0.95"/>
<line x1="724.0" y1="720.5" x2="730.0" y2="726.5" stroke="#1c1c1c" stroke-width="0.95"/>
<line x1="724.0" y1="777.5" x2="730.0" y2="783.5" stroke="#1c1c1c" stroke-width="0.95"/>
<line x1="724.0" y1="824.0" x2="730.0" y2="830.0" stroke="#1c1c1c" stroke-width="0.95"/>
<line x1="750.5" y1="106" x2="750.5" y2="786" stroke="#1c1c1c" stroke-width="0.8"/>
<line x1="747.5" y1="109.0" x2="753.5" y2="115.0" stroke="#1c1c1c" stroke-width="0.95"/>
<line x1="747.5" y1="777.5" x2="753.5" y2="783.5" stroke="#1c1c1c" stroke-width="0.95"/>
<text x="724.5" y="181" font-family="Liberation Sans" font-size="8.5" font-weight="normal" text-anchor="middle" fill="#1c1c1c" transform="rotate(-90 724.5 181)" textLength="20" lengthAdjust="spacingAndGlyphs">12'-0"</text>
<text x="724.5" y="296.5" font-family="Liberation Sans" font-size="8.5" font-weight="normal" text-anchor="middle" fill="#1c1c1c" transform="rotate(-90 724.5 296.5)" textLength="16.5" lengthAdjust="spacingAndGlyphs">8'-0"</text>
<text x="724.5" y="411.5" font-family="Liberation Sans" font-size="8.5" font-weight="normal" text-anchor="middle" fill="#1c1c1c" transform="rotate(-90 724.5 411.5)" textLength="20" lengthAdjust="spacingAndGlyphs">12'-0"</text>
<text x="724.5" y="504" font-family="Liberation Sans" font-size="8.5" font-weight="normal" text-anchor="middle" fill="#1c1c1c" transform="rotate(-90 724.5 504)" textLength="16.5" lengthAdjust="spacingAndGlyphs">4'-0"</text>
<text x="724.5" y="625" font-family="Liberation Sans" font-size="8.5" font-weight="normal" text-anchor="middle" fill="#1c1c1c" transform="rotate(-90 724.5 625)" textLength="20" lengthAdjust="spacingAndGlyphs">17'-0"</text>
<text x="724.5" y="752" font-family="Liberation Sans" font-size="8.5" font-weight="normal" text-anchor="middle" fill="#1c1c1c" transform="rotate(-90 724.5 752)" textLength="16.5" lengthAdjust="spacingAndGlyphs">5'-0"</text>
<text x="724.5" y="804" font-family="Liberation Sans" font-size="8.5" font-weight="normal" text-anchor="middle" fill="#1c1c1c" transform="rotate(-90 724.5 804)" textLength="16.5" lengthAdjust="spacingAndGlyphs">4'-0"</text>
<text x="748" y="412" font-family="Liberation Sans" font-size="8.5" font-weight="normal" text-anchor="middle" fill="#1c1c1c" transform="rotate(-90 748 412)" textLength="20" lengthAdjust="spacingAndGlyphs">58'-0"</text>
<line x1="443" y1="827" x2="730" y2="827" stroke="#1c1c1c" stroke-width="0.8"/>
<line x1="206" y1="852.5" x2="678" y2="852.5" stroke="#1c1c1c" stroke-width="0.8"/>
<line x1="209.0" y1="855.5" x2="215.0" y2="849.5" stroke="#1c1c1c" stroke-width="0.95"/>
<line x1="439.5" y1="855.5" x2="445.5" y2="849.5" stroke="#1c1c1c" stroke-width="0.95"/>
<line x1="669.5" y1="855.5" x2="675.5" y2="849.5" stroke="#1c1c1c" stroke-width="0.95"/>
<line x1="212" y1="830" x2="212" y2="858" stroke="#1c1c1c" stroke-width="0.8"/>
<line x1="442.5" y1="830" x2="442.5" y2="858" stroke="#1c1c1c" stroke-width="0.8"/>
<line x1="672.5" y1="722" x2="672.5" y2="858" stroke="#1c1c1c" stroke-width="0.8"/>
<text x="327" y="849" font-family="Liberation Sans" font-size="8.5" font-weight="normal" text-anchor="middle" fill="#1c1c1c" textLength="20" lengthAdjust="spacingAndGlyphs">20'-0"</text>
<text x="599" y="849" font-family="Liberation Sans" font-size="8.5" font-weight="normal" text-anchor="middle" fill="#1c1c1c" textLength="20" lengthAdjust="spacingAndGlyphs">20'-0"</text>
<line x1="438" y1="801.5" x2="678" y2="801.5" stroke="#1c1c1c" stroke-width="0.8"/>
<line x1="440.0" y1="804.5" x2="446.0" y2="798.5" stroke="#1c1c1c" stroke-width="0.95"/>
<line x1="508.5" y1="804.5" x2="514.5" y2="798.5" stroke="#1c1c1c" stroke-width="0.95"/>
<line x1="589.0" y1="804.5" x2="595.0" y2="798.5" stroke="#1c1c1c" stroke-width="0.95"/>
<line x1="669.5" y1="804.5" x2="675.5" y2="798.5" stroke="#1c1c1c" stroke-width="0.95"/>
<text x="477" y="797.5" font-family="Liberation Sans" font-size="8.5" font-weight="normal" text-anchor="middle" fill="#1c1c1c" textLength="16.5" lengthAdjust="spacingAndGlyphs">6'-0"</text>
<text x="552" y="797.5" font-family="Liberation Sans" font-size="8.5" font-weight="normal" text-anchor="middle" fill="#1c1c1c" textLength="16.5" lengthAdjust="spacingAndGlyphs">7'-0"</text>
<text x="632" y="797.5" font-family="Liberation Sans" font-size="8.5" font-weight="normal" text-anchor="middle" fill="#1c1c1c" textLength="16.5" lengthAdjust="spacingAndGlyphs">7'-0"</text>
<line x1="592" y1="781" x2="592" y2="804" stroke="#1c1c1c" stroke-width="0.8"/>
<line x1="511.5" y1="781" x2="511.5" y2="804" stroke="#1c1c1c" stroke-width="0.8"/>
<text x="350" y="898" font-family="Liberation Sans" font-size="15" font-weight="normal" text-anchor="start" fill="#000" textLength="140" lengthAdjust="spacingAndGlyphs" stroke="#000" stroke-width="0.45">Proposed Floor Plan</text>
<line x1="350" y1="900.5" x2="491" y2="900.5" stroke="#555" stroke-width="0.9"/>
<text x="350" y="909" font-family="Liberation Sans" font-size="6" font-weight="bold" text-anchor="start" fill="#000" textLength="50" lengthAdjust="spacingAndGlyphs" stroke="#000" stroke-width="0.25">SCALE: 1/4" = 1'-0"</text>
<rect x="211.75" y="112.25" width="92.94999999999999" height="5.25" fill="url(#hatch)" stroke="#1c1c1c" stroke-width="0.7"/>
<rect x="337.5" y="112.25" width="46.5" height="5.25" fill="url(#hatch)" stroke="#1c1c1c" stroke-width="0.7"/>
<rect x="418.75" y="112.25" width="57.25" height="5.25" fill="url(#hatch)" stroke="#1c1c1c" stroke-width="0.7"/>
<rect x="511.4" y="112.25" width="161.60000000000002" height="5.25" fill="url(#hatch)" stroke="#1c1c1c" stroke-width="0.7"/>
<rect x="304.7" y="112.25" width="32.80000000000001" height="5.25" fill="#fff" stroke="#888" stroke-width="0.8"/>
<line x1="304.7" y1="113.975" x2="337.5" y2="113.975" stroke="#111" stroke-width="0.8"/>
<line x1="304.7" y1="115.775" x2="337.5" y2="115.775" stroke="#111" stroke-width="0.8"/>
<rect x="384" y="112.25" width="34.75" height="5.25" fill="#fff" stroke="#888" stroke-width="0.8"/>
<line x1="384" y1="113.975" x2="418.75" y2="113.975" stroke="#111" stroke-width="0.8"/>
<line x1="384" y1="115.775" x2="418.75" y2="115.775" stroke="#111" stroke-width="0.8"/>
<rect x="211.75" y="112.25" width="5.5" height="212.75" fill="url(#hatch)" stroke="#1c1c1c" stroke-width="0.7"/>
<rect x="211.75" y="361" width="5.5" height="85" fill="url(#hatch)" stroke="#1c1c1c" stroke-width="0.7"/>
<rect x="211.75" y="484" width="5.5" height="3.5" fill="url(#hatch)" stroke="#1c1c1c" stroke-width="0.7"/>
<rect x="211.75" y="525" width="5.5" height="4" fill="url(#hatch)" stroke="#1c1c1c" stroke-width="0.7"/>
<rect x="211.75" y="564" width="5.5" height="44" fill="url(#hatch)" stroke="#1c1c1c" stroke-width="0.7"/>
<rect x="211.75" y="642" width="5.5" height="23.5" fill="url(#hatch)" stroke="#1c1c1c" stroke-width="0.7"/>
<rect x="211.75" y="700" width="5.5" height="57.5" fill="url(#hatch)" stroke="#1c1c1c" stroke-width="0.7"/>
<rect x="211.75" y="794" width="5.5" height="32.60000000000002" fill="url(#hatch)" stroke="#1c1c1c" stroke-width="0.7"/>
<rect x="211.75" y="325" width="5.5" height="36" fill="#fff" stroke="#888" stroke-width="0.8"/>
<line x1="213.6" y1="325" x2="213.6" y2="361" stroke="#111" stroke-width="0.8"/>
<line x1="215.4" y1="325" x2="215.4" y2="361" stroke="#111" stroke-width="0.8"/>
<rect x="211.75" y="446" width="5.5" height="38" fill="#fff" stroke="#888" stroke-width="0.8"/>
<line x1="213.6" y1="446" x2="213.6" y2="484" stroke="#111" stroke-width="0.8"/>
<line x1="215.4" y1="446" x2="215.4" y2="484" stroke="#111" stroke-width="0.8"/>
<rect x="211.75" y="487.5" width="5.5" height="37.5" fill="#fff" stroke="#888" stroke-width="0.8"/>
<line x1="213.6" y1="487.5" x2="213.6" y2="525" stroke="#111" stroke-width="0.8"/>
<line x1="215.4" y1="487.5" x2="215.4" y2="525" stroke="#111" stroke-width="0.8"/>
<rect x="211.75" y="529" width="5.5" height="35" fill="#fff" stroke="#888" stroke-width="0.8"/>
<line x1="213.6" y1="529" x2="213.6" y2="564" stroke="#111" stroke-width="0.8"/>
<line x1="215.4" y1="529" x2="215.4" y2="564" stroke="#111" stroke-width="0.8"/>
<rect x="211.75" y="665.5" width="5.5" height="34.5" fill="#fff" stroke="#888" stroke-width="0.8"/>
<line x1="213.6" y1="665.5" x2="213.6" y2="700" stroke="#111" stroke-width="0.8"/>
<line x1="215.4" y1="665.5" x2="215.4" y2="700" stroke="#111" stroke-width="0.8"/>
<rect x="211.75" y="757.5" width="5.5" height="36.5" fill="#fff" stroke="#888" stroke-width="0.8"/>
<line x1="213.6" y1="757.5" x2="213.6" y2="794" stroke="#111" stroke-width="0.8"/>
<line x1="215.4" y1="757.5" x2="215.4" y2="794" stroke="#111" stroke-width="0.8"/>
<rect x="667.5" y="112.25" width="5.5" height="92.75" fill="url(#hatch)" stroke="#1c1c1c" stroke-width="0.7"/>
<rect x="667.5" y="239" width="5.5" height="115" fill="url(#hatch)" stroke="#1c1c1c" stroke-width="0.7"/>
<rect x="667.5" y="389" width="5.5" height="185.60000000000002" fill="url(#hatch)" stroke="#1c1c1c" stroke-width="0.7"/>
<rect x="667.5" y="608.7" width="5.5" height="4.899999999999977" fill="url(#hatch)" stroke="#1c1c1c" stroke-width="0.7"/>
<rect x="667.5" y="649.4" width="5.5" height="4.600000000000023" fill="url(#hatch)" stroke="#1c1c1c" stroke-width="0.7"/>
<rect x="667.5" y="688.4" width="5.5" height="34.10000000000002" fill="url(#hatch)" stroke="#1c1c1c" stroke-width="0.7"/>
<rect x="667.5" y="205" width="5.5" height="34" fill="#fff" stroke="#888" stroke-width="0.8"/>
<line x1="669.35" y1="205" x2="669.35" y2="239" stroke="#111" stroke-width="0.8"/>
<line x1="671.15" y1="205" x2="671.15" y2="239" stroke="#111" stroke-width="0.8"/>
<rect x="667.5" y="354" width="5.5" height="35" fill="#fff" stroke="#888" stroke-width="0.8"/>
<line x1="669.35" y1="354" x2="669.35" y2="389" stroke="#111" stroke-width="0.8"/>
<line x1="671.15" y1="354" x2="671.15" y2="389" stroke="#111" stroke-width="0.8"/>
<rect x="667.5" y="574.6" width="5.5" height="34.10000000000002" fill="#fff" stroke="#888" stroke-width="0.8"/>
<line x1="669.35" y1="574.6" x2="669.35" y2="608.7" stroke="#111" stroke-width="0.8"/>
<line x1="671.15" y1="574.6" x2="671.15" y2="608.7" stroke="#111" stroke-width="0.8"/>
<rect x="667.5" y="613.6" width="5.5" height="35.799999999999955" fill="#fff" stroke="#888" stroke-width="0.8"/>
<line x1="669.35" y1="613.6" x2="669.35" y2="649.4" stroke="#111" stroke-width="0.8"/>
<line x1="671.15" y1="613.6" x2="671.15" y2="649.4" stroke="#111" stroke-width="0.8"/>
<rect x="667.5" y="654" width="5.5" height="34.39999999999998" fill="#fff" stroke="#888" stroke-width="0.8"/>
<line x1="669.35" y1="654" x2="669.35" y2="688.4" stroke="#111" stroke-width="0.8"/>
<line x1="671.15" y1="654" x2="671.15" y2="688.4" stroke="#111" stroke-width="0.8"/>
<rect x="437.7" y="718.3" width="15.300000000000011" height="4.2000000000000455" fill="url(#hatch)" stroke="#1c1c1c" stroke-width="0.7"/>
<rect x="487" y="718.3" width="47" height="4.2000000000000455" fill="url(#hatch)" stroke="#1c1c1c" stroke-width="0.7"/>
<rect x="568" y="718.3" width="7" height="4.2000000000000455" fill="url(#hatch)" stroke="#1c1c1c" stroke-width="0.7"/>
<rect x="609" y="718.3" width="6.5" height="4.2000000000000455" fill="url(#hatch)" stroke="#1c1c1c" stroke-width="0.7"/>
<rect x="649.6" y="718.3" width="23.399999999999977" height="4.2000000000000455" fill="url(#hatch)" stroke="#1c1c1c" stroke-width="0.7"/>
<rect x="534" y="718.3" width="34" height="4.2000000000000455" fill="#fff" stroke="#888" stroke-width="0.8"/>
<line x1="534" y1="719.5" x2="568" y2="719.5" stroke="#111" stroke-width="0.8"/>
<line x1="534" y1="721.3" x2="568" y2="721.3" stroke="#111" stroke-width="0.8"/>
<rect x="575" y="718.3" width="34" height="4.2000000000000455" fill="#fff" stroke="#888" stroke-width="0.8"/>
<line x1="575" y1="719.5" x2="609" y2="719.5" stroke="#111" stroke-width="0.8"/>
<line x1="575" y1="721.3" x2="609" y2="721.3" stroke="#111" stroke-width="0.8"/>
<rect x="615.5" y="718.3" width="34.10000000000002" height="4.2000000000000455" fill="#fff" stroke="#888" stroke-width="0.8"/>
<line x1="615.5" y1="719.5" x2="649.6" y2="719.5" stroke="#111" stroke-width="0.8"/>
<line x1="615.5" y1="721.3" x2="649.6" y2="721.3" stroke="#111" stroke-width="0.8"/>
<rect x="437.7" y="722.5" width="5.300000000000011" height="104.10000000000002" fill="url(#hatch)" stroke="#1c1c1c" stroke-width="0.7"/>
<rect x="211.75" y="820.6" width="23.75" height="6.0" fill="url(#hatch)" stroke="#1c1c1c" stroke-width="0.7"/>
<rect x="419" y="820.6" width="24" height="6.0" fill="url(#hatch)" stroke="#1c1c1c" stroke-width="0.7"/>
<line x1="235.5" y1="820.3" x2="419" y2="820.3" stroke="#1c1c1c" stroke-width="0.7"/>
<line x1="235.5" y1="822.6" x2="419" y2="822.6" stroke="#1c1c1c" stroke-width="0.7"/>
<line x1="235.5" y1="826.4" x2="419" y2="826.4" stroke="#1c1c1c" stroke-width="0.7"/>
<rect x="280.7" y="117.5" width="4.300000000000011" height="147.5" fill="#fff" stroke="#1c1c1c" stroke-width="0.8"/>
<rect x="217.25" y="250.2" width="32.75" height="4.050000000000011" fill="#fff" stroke="#1c1c1c" stroke-width="0.8"/>
<rect x="242.5" y="254.25" width="4.0" height="7.350000000000023" fill="#fff" stroke="#1c1c1c" stroke-width="0.8"/>
<rect x="242.5" y="290" width="4.0" height="6.5" fill="#fff" stroke="#1c1c1c" stroke-width="0.8"/>
<rect x="217.25" y="296.5" width="29.25" height="3.8000000000000114" fill="#fff" stroke="#1c1c1c" stroke-width="0.8"/>
<rect x="281" y="296.5" width="165.5" height="3.8000000000000114" fill="#fff" stroke="#1c1c1c" stroke-width="0.8"/>
<rect x="281" y="290" width="4" height="6.5" fill="#fff" stroke="#1c1c1c" stroke-width="0.8"/>
<rect x="325" y="300.3" width="3.5" height="110.69999999999999" fill="#fff" stroke="#1c1c1c" stroke-width="0.8"/>
<rect x="217.25" y="411" width="111.25" height="4.300000000000011" fill="#fff" stroke="#1c1c1c" stroke-width="0.8"/>
<rect x="442.6" y="117.5" width="3.8999999999999773" height="146.5" fill="#fff" stroke="#1c1c1c" stroke-width="0.8"/>
<rect x="446.5" y="246.4" width="31.100000000000023" height="4.349999999999994" fill="#fff" stroke="#1c1c1c" stroke-width="0.8"/>
<rect x="511.4" y="117.5" width="4.2000000000000455" height="133.25" fill="#fff" stroke="#1c1c1c" stroke-width="0.8"/>
<rect x="548" y="246.6" width="87" height="4.300000000000011" fill="#fff" stroke="#1c1c1c" stroke-width="0.8"/>
<rect x="663.5" y="246.6" width="4.0" height="4.300000000000011" fill="#fff" stroke="#1c1c1c" stroke-width="0.8"/>
<rect x="550" y="250.9" width="3.7999999999999545" height="54.599999999999994" fill="#fff" stroke="#1c1c1c" stroke-width="0.8"/>
<rect x="611.5" y="250.9" width="4.0" height="88.1" fill="#fff" stroke="#1c1c1c" stroke-width="0.8"/>
<rect x="550" y="339" width="117.5" height="3.8000000000000114" fill="#fff" stroke="#1c1c1c" stroke-width="0.8"/>
<rect x="557.3" y="342.8" width="3.900000000000091" height="4.199999999999989" fill="#fff" stroke="#1c1c1c" stroke-width="0.8"/>
<rect x="557.5" y="377" width="3.7000000000000455" height="112" fill="#fff" stroke="#1c1c1c" stroke-width="0.8"/>
<rect x="557.5" y="519" width="3.7000000000000455" height="3.5" fill="#fff" stroke="#1c1c1c" stroke-width="0.8"/>
<rect x="553" y="400" width="4.5" height="4" fill="#fff" stroke="#1c1c1c" stroke-width="0.8"/>
<rect x="507.4" y="296.3" width="3.900000000000034" height="103.69999999999999" fill="#fff" stroke="#1c1c1c" stroke-width="0.8"/>
<rect x="442" y="377.2" width="24" height="3.6000000000000227" fill="#fff" stroke="#1c1c1c" stroke-width="0.8"/>
<rect x="497.5" y="377.2" width="9.899999999999977" height="3.6000000000000227" fill="#fff" stroke="#1c1c1c" stroke-width="0.8"/>
<rect x="442" y="380.8" width="4" height="141.7" fill="#fff" stroke="#1c1c1c" stroke-width="0.8"/>
<rect x="446" y="400" width="75.5" height="4" fill="#fff" stroke="#1c1c1c" stroke-width="0.8"/>
<rect x="561.2" y="481" width="69.79999999999995" height="4" fill="#fff" stroke="#1c1c1c" stroke-width="0.8"/>
<rect x="661" y="481" width="6.5" height="4" fill="#fff" stroke="#1c1c1c" stroke-width="0.8"/>
<rect x="614.5" y="485" width="4.5" height="37.5" fill="#fff" stroke="#1c1c1c" stroke-width="0.8"/>
<rect x="442" y="522.5" width="225.5" height="4.5" fill="#fff" stroke="#1c1c1c" stroke-width="0.8"/>
<rect x="217.25" y="596.8" width="174.75" height="3.6000000000000227" fill="#fff" stroke="#1c1c1c" stroke-width="0.8"/>
<rect x="429" y="596.8" width="13.300000000000011" height="3.6000000000000227" fill="#fff" stroke="#1c1c1c" stroke-width="0.8"/>
<line x1="392" y1="596.8" x2="429" y2="596.8" stroke="#1c1c1c" stroke-width="0.8"/>
<rect x="438" y="600.4" width="4.300000000000011" height="117.89999999999998" fill="#fff" stroke="#1c1c1c" stroke-width="0.8"/>
<rect x="447.5" y="121" width="22.0" height="18" fill="none" stroke="#1c1c1c" stroke-width="0.7"/>
<circle cx="458.5" cy="130" r="7.2" fill="none" stroke="#1c1c1c" stroke-width="0.7"/>
<line x1="447.5" y1="121" x2="452.5" y2="125.5" stroke="#1c1c1c" stroke-width="0.5"/>
<line x1="469.5" y1="121" x2="464.5" y2="125.5" stroke="#1c1c1c" stroke-width="0.5"/>
<line x1="447.5" y1="139" x2="452.5" y2="134.5" stroke="#1c1c1c" stroke-width="0.5"/>
<line x1="469.5" y1="139" x2="464.5" y2="134.5" stroke="#1c1c1c" stroke-width="0.5"/>
<text x="458.5" y="132" font-family="Liberation Sans" font-size="4.5" font-weight="bold" text-anchor="middle" fill="#000" textLength="8" lengthAdjust="spacingAndGlyphs" stroke="#000" stroke-width="0.25">A/H</text>
<circle cx="459" cy="151" r="10" fill="none" stroke="#1c1c1c" stroke-width="0.7"/>
<text x="459" y="149" font-family="Liberation Sans" font-size="4.5" font-weight="bold" text-anchor="middle" fill="#000" textLength="7" lengthAdjust="spacingAndGlyphs" stroke="#000" stroke-width="0.25">WH</text>
<text x="461" y="155.5" font-family="Liberation Sans" font-size="4.5" font-weight="bold" text-anchor="middle" fill="#000" textLength="10" lengthAdjust="spacingAndGlyphs" stroke="#000" stroke-width="0.25">220V</text>
<circle cx="453" cy="154" r="2.5" fill="none" stroke="#1c1c1c" stroke-width="0.5"/>
<rect x="447" y="162" width="27" height="28" fill="none" stroke="#1c1c1c" stroke-width="0.7"/>
<rect x="449" y="164" width="7" height="24" fill="none" stroke="#1c1c1c" stroke-width="0.5"/>
<rect x="456" y="165" width="3" height="5" fill="none" stroke="#1c1c1c" stroke-width="0.5"/>
<line x1="473" y1="168" x2="474.5" y2="168" stroke="#1c1c1c" stroke-width="0.5"/>
<rect x="447" y="192" width="24" height="24" fill="none" stroke="#1c1c1c" stroke-width="0.7"/>
<rect x="450" y="195" width="18" height="18" fill="none" stroke="#1c1c1c" stroke-width="0.6" rx="1.5"/>
<circle cx="461" cy="204" r="1.5" fill="#1c1c1c"/>
<line x1="452" y1="204" x2="461" y2="204" stroke="#1c1c1c" stroke-width="0.5"/>
<rect x="447" y="220" width="26" height="26" fill="none" stroke="#1c1c1c" stroke-width="0.7"/>
<rect x="451" y="222" width="20" height="22" fill="none" stroke="#1c1c1c" stroke-width="0.6"/>
<line x1="449" y1="222" x2="449" y2="244" stroke="#1c1c1c" stroke-width="0.5"/>
<text x="490.5" y="186" font-family="Liberation Sans" font-size="10" font-weight="normal" text-anchor="middle" fill="#000" textLength="21" lengthAdjust="spacingAndGlyphs" stroke="#000" stroke-width="0.42">Utility</text>
<line x1="480.0" y1="187.7" x2="502.0" y2="187.7" stroke="#444" stroke-width="0.8"/>
<line x1="212" y1="311" x2="285" y2="311" stroke="#1c1c1c" stroke-width="0.8"/>
<line x1="209.0" y1="314.0" x2="215.0" y2="308.0" stroke="#1c1c1c" stroke-width="0.95"/>
<line x1="242.5" y1="314.0" x2="248.5" y2="308.0" stroke="#1c1c1c" stroke-width="0.95"/>
<line x1="278.0" y1="314.0" x2="284.0" y2="308.0" stroke="#1c1c1c" stroke-width="0.95"/>
<line x1="245.5" y1="300.3" x2="245.5" y2="315" stroke="#1c1c1c" stroke-width="0.8"/>
<line x1="281" y1="300.3" x2="281" y2="315" stroke="#1c1c1c" stroke-width="0.8"/>
<text x="229" y="308.5" font-family="Liberation Sans" font-size="8.5" font-weight="normal" text-anchor="middle" fill="#1c1c1c" textLength="16.5" lengthAdjust="spacingAndGlyphs">3'-0"</text>
<text x="263" y="308.5" font-family="Liberation Sans" font-size="8.5" font-weight="normal" text-anchor="middle" fill="#1c1c1c" textLength="16.5" lengthAdjust="spacingAndGlyphs">3'-0"</text>
<ellipse cx="305" cy="313" rx="8.5" ry="6.5" fill="none" stroke="#1c1c1c" stroke-width="0.7"/>
<ellipse cx="305" cy="313" rx="6.5" ry="4.8" fill="none" stroke="#1c1c1c" stroke-width="0.4"/>
<rect x="313.5" y="306" width="9.0" height="15" fill="none" stroke="#1c1c1c" stroke-width="0.7" rx="1.5"/>
<rect x="302.5" y="329" width="21.5" height="51" fill="none" stroke="#1c1c1c" stroke-width="0.7"/>
<rect x="305" y="332" width="13" height="19" fill="none" stroke="#1c1c1c" stroke-width="0.6"/>
<line x1="305" y1="332" x2="318" y2="351" stroke="#1c1c1c" stroke-width="0.4"/>
<line x1="318" y1="332" x2="305" y2="351" stroke="#1c1c1c" stroke-width="0.4"/>
<circle cx="311.5" cy="341.5" r="1.7" fill="#fff" stroke="#1c1c1c" stroke-width="0.5"/>
<line x1="320" y1="338" x2="320" y2="345" stroke="#1c1c1c" stroke-width="0.6"/>
<line x1="318.5" y1="341.5" x2="322" y2="341.5" stroke="#1c1c1c" stroke-width="0.5"/>
<rect x="305" y="358" width="13" height="19" fill="none" stroke="#1c1c1c" stroke-width="0.6"/>
<line x1="305" y1="358" x2="318" y2="377" stroke="#1c1c1c" stroke-width="0.4"/>
<line x1="318" y1="358" x2="305" y2="377" stroke="#1c1c1c" stroke-width="0.4"/>
<circle cx="311.5" cy="367.5" r="1.7" fill="#fff" stroke="#1c1c1c" stroke-width="0.5"/>
<line x1="320" y1="364" x2="320" y2="371" stroke="#1c1c1c" stroke-width="0.6"/>
<line x1="318.5" y1="367.5" x2="322" y2="367.5" stroke="#1c1c1c" stroke-width="0.5"/>
<rect x="218" y="367" width="46.5" height="44" fill="none" stroke="#1c1c1c" stroke-width="0.7"/>
<rect x="219.5" y="368.5" width="43.5" height="41.0" fill="none" stroke="#1c1c1c" stroke-width="0.4"/>
<line x1="219.5" y1="368.5" x2="263" y2="409.5" stroke="#1c1c1c" stroke-width="0.5"/>
<line x1="263" y1="368.5" x2="219.5" y2="409.5" stroke="#1c1c1c" stroke-width="0.5"/>
<circle cx="241" cy="389" r="2.5" fill="#fff" stroke="#1c1c1c" stroke-width="0.6"/>
<rect x="265.5" y="381" width="58.5" height="30" fill="none" stroke="#1c1c1c" stroke-width="0.7"/>
<path d="M281,384.5 L316.5,384.5 L316.5,407.5 L281,407.5 Q270,407.5 270,396 Q270,384.5 281,384.5 Z" fill="none" stroke="#1c1c1c" stroke-width="0.7"/>
<line x1="313" y1="392" x2="313" y2="400" stroke="#1c1c1c" stroke-width="0.5"/>
<rect x="324.5" y="388" width="3.0" height="17" fill="none" stroke="#1c1c1c" stroke-width="0.4"/>
<text x="255.6" y="338" font-family="Liberation Sans" font-size="10" font-weight="normal" text-anchor="middle" fill="#000" textLength="61" lengthAdjust="spacingAndGlyphs" stroke="#000" stroke-width="0.42">Master's Bath</text>
<line x1="225.1" y1="339.7" x2="287.1" y2="339.7" stroke="#444" stroke-width="0.8"/>
<text x="227.5" y="346.3" font-family="Liberation Sans" font-size="6" font-weight="bold" text-anchor="start" fill="#000" textLength="40.5" lengthAdjust="spacingAndGlyphs" stroke="#000" stroke-width="0.25">8'-0" Ceiling Ht.</text>
<text x="208.5" y="343" font-family="Liberation Sans" font-size="5" font-weight="normal" text-anchor="middle" fill="#444" transform="rotate(-90 208.5 343)" textLength="13" lengthAdjust="spacingAndGlyphs">SH-25</text>
<line x1="328.5" y1="325.5" x2="403" y2="325.5" stroke="#1c1c1c" stroke-width="0.8"/>
<rect x="351" y="302.5" width="29" height="25.0" fill="none" stroke="#1c1c1c" stroke-width="0.8"/>
<rect x="351" y="301" width="29" height="2.5" fill="#1c1c1c"/>
<circle cx="358" cy="309.5" r="4.2" fill="#1c1c1c"/>
<circle cx="358" cy="309.5" r="1.9" fill="#fff"/>
<circle cx="372.5" cy="309.5" r="4.2" fill="#1c1c1c"/>
<circle cx="372.5" cy="309.5" r="1.9" fill="#fff"/>
<circle cx="358" cy="320.5" r="4.2" fill="#1c1c1c"/>
<circle cx="358" cy="320.5" r="1.9" fill="#fff"/>
<circle cx="372.5" cy="320.5" r="4.2" fill="#1c1c1c"/>
<circle cx="372.5" cy="320.5" r="1.9" fill="#fff"/>
<rect x="403" y="300.3" width="37" height="28.69999999999999" fill="none" stroke="#1c1c1c" stroke-width="0.7"/>
<line x1="403" y1="327" x2="440" y2="327" stroke="#1c1c1c" stroke-width="0.5"/>
<text x="424" y="315.5" font-family="Liberation Sans" font-size="6" font-weight="bold" text-anchor="middle" fill="#000" textLength="8.5" lengthAdjust="spacingAndGlyphs" stroke="#000" stroke-width="0.25">36"</text>
<text x="424" y="322" font-family="Liberation Sans" font-size="6" font-weight="bold" text-anchor="middle" fill="#000" textLength="15" lengthAdjust="spacingAndGlyphs" stroke="#000" stroke-width="0.25">REFG.</text>
<path d="M328.5,377.5 L390,377.5 Q397.5,377.5 397.5,385 L397.5,405 Q397.5,412.5 390,412.5 L328.5,412.5" fill="#fff" stroke="#1c1c1c" stroke-width="0.8"/>
<rect x="343" y="379.5" width="32" height="20.5" fill="none" stroke="#1c1c1c" stroke-width="0.6"/>
<rect x="345" y="381.5" width="13" height="16.5" fill="none" stroke="#1c1c1c" stroke-width="0.5" rx="2"/>
<rect x="360" y="381.5" width="13" height="16.5" fill="none" stroke="#1c1c1c" stroke-width="0.5" rx="2"/>
<circle cx="351.5" cy="389" r="1.4" fill="none" stroke="#1c1c1c" stroke-width="0.5"/>
<circle cx="366.5" cy="389" r="1.4" fill="none" stroke="#1c1c1c" stroke-width="0.5"/>
<circle cx="357" cy="395" r="1.6" fill="#333"/>
<path d="M328.40000000000003,428.5 Q336.6,437 344.8,428.5" fill="none" stroke="#1c1c1c" stroke-width="0.9"/>
<circle cx="336.6" cy="424.6" r="7.4" fill="url(#stool)" stroke="#111" stroke-width="0.6"/>
<path d="M346.40000000000003,428.5 Q354.6,437 362.8,428.5" fill="none" stroke="#1c1c1c" stroke-width="0.9"/>
<circle cx="354.6" cy="424.6" r="7.4" fill="url(#stool)" stroke="#111" stroke-width="0.6"/>
<path d="M364.40000000000003,428.5 Q372.6,437 380.8,428.5" fill="none" stroke="#1c1c1c" stroke-width="0.9"/>
<circle cx="372.6" cy="424.6" r="7.4" fill="url(#stool)" stroke="#111" stroke-width="0.6"/>
<path d="M382.2,428.5 Q390.4,437 398.59999999999997,428.5" fill="none" stroke="#1c1c1c" stroke-width="0.9"/>
<circle cx="390.4" cy="424.6" r="7.4" fill="url(#stool)" stroke="#111" stroke-width="0.6"/>
<line x1="327" y1="415.4" x2="442" y2="415.4" stroke="#444" stroke-width="0.6" stroke-dasharray="1.5,1"/>
<line x1="327" y1="411" x2="327" y2="448" stroke="#1c1c1c" stroke-width="0.7"/>
<text x="384" y="348.75" font-family="Liberation Sans" font-size="10" font-weight="normal" text-anchor="middle" fill="#000" textLength="32" lengthAdjust="spacingAndGlyphs" stroke="#000" stroke-width="0.42">Kitchen</text>
<line x1="368.0" y1="350.45" x2="401.0" y2="350.45" stroke="#444" stroke-width="0.8"/>
<text x="363.75" y="356.5" font-family="Liberation Sans" font-size="6" font-weight="bold" text-anchor="start" fill="#000" textLength="41.75" lengthAdjust="spacingAndGlyphs" stroke="#000" stroke-width="0.25">8'-0" Ceiling Ht.</text>
<line x1="337" y1="296" x2="337" y2="416" stroke="#1c1c1c" stroke-width="0.8"/>
<line x1="334.0" y1="297.3" x2="340.0" y2="303.3" stroke="#1c1c1c" stroke-width="0.95"/>
<line x1="334.0" y1="408.0" x2="340.0" y2="414.0" stroke="#1c1c1c" stroke-width="0.95"/>
<text x="335" y="357.5" font-family="Liberation Sans" font-size="8.5" font-weight="normal" text-anchor="middle" fill="#1c1c1c" transform="rotate(-90 335 357.5)" textLength="20" lengthAdjust="spacingAndGlyphs">10'-0"</text>
<line x1="206" y1="444.5" x2="446" y2="444.5" stroke="#1c1c1c" stroke-width="0.8"/>
<line x1="209.0" y1="447.5" x2="215.0" y2="441.5" stroke="#1c1c1c" stroke-width="0.95"/>
<line x1="324.0" y1="447.5" x2="330.0" y2="441.5" stroke="#1c1c1c" stroke-width="0.95"/>
<line x1="439.0" y1="447.5" x2="445.0" y2="441.5" stroke="#1c1c1c" stroke-width="0.95"/>
<text x="270" y="441.5" font-family="Liberation Sans" font-size="8.5" font-weight="normal" text-anchor="middle" fill="#1c1c1c" textLength="20" lengthAdjust="spacingAndGlyphs">10'-0"</text>
<text x="384" y="441.5" font-family="Liberation Sans" font-size="8.5" font-weight="normal" text-anchor="middle" fill="#1c1c1c" textLength="20" lengthAdjust="spacingAndGlyphs">10'-0"</text>
<line x1="396" y1="365" x2="396" y2="377.5" stroke="#1c1c1c" stroke-width="0.8"/>
<line x1="442.5" y1="365" x2="442.5" y2="377" stroke="#1c1c1c" stroke-width="0.8"/>
<line x1="392" y1="369" x2="446" y2="369" stroke="#1c1c1c" stroke-width="0.8"/>
<line x1="393.0" y1="372.0" x2="399.0" y2="366.0" stroke="#1c1c1c" stroke-width="0.95"/>
<line x1="439.5" y1="372.0" x2="445.5" y2="366.0" stroke="#1c1c1c" stroke-width="0.95"/>
<text x="420" y="366" font-family="Liberation Sans" font-size="8.5" font-weight="normal" text-anchor="middle" fill="#1c1c1c" textLength="16.5" lengthAdjust="spacingAndGlyphs">4'-0"</text>
<line x1="499.5" y1="292" x2="499.5" y2="404" stroke="#1c1c1c" stroke-width="0.8"/>
<line x1="496.5" y1="293.5" x2="502.5" y2="299.5" stroke="#1c1c1c" stroke-width="0.95"/>
<line x1="496.5" y1="374.5" x2="502.5" y2="380.5" stroke="#1c1c1c" stroke-width="0.95"/>
<line x1="496.5" y1="397.5" x2="502.5" y2="403.5" stroke="#1c1c1c" stroke-width="0.95"/>
<text x="496.5" y="337" font-family="Liberation Sans" font-size="8.5" font-weight="normal" text-anchor="middle" fill="#1c1c1c" transform="rotate(-90 496.5 337)" textLength="16.5" lengthAdjust="spacingAndGlyphs">7'-0"</text>
<text x="496.5" y="389.5" font-family="Liberation Sans" font-size="8.5" font-weight="normal" text-anchor="middle" fill="#1c1c1c" transform="rotate(-90 496.5 389.5)" textLength="16.5" lengthAdjust="spacingAndGlyphs">2'-0"</text>
<line x1="522.6" y1="246" x2="522.6" y2="404" stroke="#1c1c1c" stroke-width="0.8"/>
<line x1="519.6" y1="247.5" x2="525.6" y2="253.5" stroke="#1c1c1c" stroke-width="0.95"/>
<line x1="519.6" y1="398.7" x2="525.6" y2="404.7" stroke="#1c1c1c" stroke-width="0.95"/>
<text x="519.5" y="326.5" font-family="Liberation Sans" font-size="8.5" font-weight="normal" text-anchor="middle" fill="#1c1c1c" transform="rotate(-90 519.5 326.5)" textLength="20" lengthAdjust="spacingAndGlyphs">13'-0"</text>
<line x1="499.7" y1="380.8" x2="499.7" y2="400" stroke="#1c1c1c" stroke-width="0.6"/>
<line x1="499.7" y1="386" x2="507.4" y2="386" stroke="#1c1c1c" stroke-width="0.6"/>
<text x="594.25" y="193.75" font-family="Liberation Sans" font-size="10" font-weight="normal" text-anchor="middle" fill="#000" textLength="47.5" lengthAdjust="spacingAndGlyphs" stroke="#000" stroke-width="0.42">Bedroom 1</text>
<line x1="570.5" y1="195.45" x2="619.0" y2="195.45" stroke="#444" stroke-width="0.8"/>
<text x="594.25" y="201.75" font-family="Liberation Sans" font-size="6" font-weight="bold" text-anchor="middle" fill="#000" textLength="40" lengthAdjust="spacingAndGlyphs" stroke="#000" stroke-width="0.25">8'-0" Ceiling Ht.</text>
<line x1="548" y1="216" x2="674" y2="216" stroke="#1c1c1c" stroke-width="0.8"/>
<line x1="549.5" y1="219.0" x2="555.5" y2="213.0" stroke="#1c1c1c" stroke-width="0.95"/>
<line x1="609.5" y1="219.0" x2="615.5" y2="213.0" stroke="#1c1c1c" stroke-width="0.95"/>
<line x1="612.5" y1="219.0" x2="618.5" y2="213.0" stroke="#1c1c1c" stroke-width="0.95"/>
<line x1="664.5" y1="219.0" x2="670.5" y2="213.0" stroke="#1c1c1c" stroke-width="0.95"/>
<line x1="552.5" y1="212" x2="552.5" y2="246.6" stroke="#1c1c1c" stroke-width="0.8"/>
<line x1="612.5" y1="212" x2="612.5" y2="246.6" stroke="#1c1c1c" stroke-width="0.8"/>
<line x1="615.5" y1="212" x2="615.5" y2="246.6" stroke="#1c1c1c" stroke-width="0.8"/>
<text x="583.5" y="213" font-family="Liberation Sans" font-size="8.5" font-weight="normal" text-anchor="middle" fill="#1c1c1c" textLength="16.5" lengthAdjust="spacingAndGlyphs">5'-0"</text>
<text x="642.5" y="213" font-family="Liberation Sans" font-size="8.5" font-weight="normal" text-anchor="middle" fill="#1c1c1c" textLength="16.5" lengthAdjust="spacingAndGlyphs">5'-0"</text>
<text x="679" y="222" font-family="Liberation Sans" font-size="5" font-weight="bold" text-anchor="middle" fill="#000" transform="rotate(-90 679 222)" textLength="13" lengthAdjust="spacingAndGlyphs" stroke="#000" stroke-width="0.25">SH-25</text>
<text x="684" y="222" font-family="Liberation Sans" font-size="5" font-weight="bold" text-anchor="middle" fill="#000" transform="rotate(-90 684 222)" textLength="17" lengthAdjust="spacingAndGlyphs" stroke="#000" stroke-width="0.25">EGRESS</text>
<rect x="557" y="254" width="50.5" height="25" fill="none" stroke="#1c1c1c" stroke-width="0.7"/>
<path d="M563,257 L595,257 Q604.5,257 604.5,266.5 Q604.5,276 595,276 L563,276 Z" fill="none" stroke="#1c1c1c" stroke-width="0.7"/>
<line x1="567" y1="262" x2="567" y2="271" stroke="#1c1c1c" stroke-width="0.5"/>
<rect x="553.8" y="256" width="3.2000000000000455" height="20" fill="none" stroke="#1c1c1c" stroke-width="0.4"/>
<line x1="553.8" y1="281" x2="610" y2="281" stroke="#1c1c1c" stroke-width="0.7"/>
<ellipse cx="592" cy="296" rx="8.5" ry="6.5" fill="none" stroke="#1c1c1c" stroke-width="0.7"/>
<ellipse cx="592" cy="296" rx="6.5" ry="4.8" fill="none" stroke="#1c1c1c" stroke-width="0.4"/>
<rect x="601" y="288" width="8.5" height="16" fill="none" stroke="#1c1c1c" stroke-width="0.7" rx="1.5"/>
<rect x="589.5" y="310.5" width="20.5" height="28.5" fill="none" stroke="#1c1c1c" stroke-width="0.6"/>
<rect x="591" y="312" width="17.5" height="25.5" fill="none" stroke="#1c1c1c" stroke-width="0.4"/>
<line x1="591" y1="312" x2="608.5" y2="337.5" stroke="#1c1c1c" stroke-width="0.4"/>
<line x1="608.5" y1="312" x2="591" y2="337.5" stroke="#1c1c1c" stroke-width="0.4"/>
<circle cx="599.5" cy="325" r="1.5" fill="#fff" stroke="#1c1c1c" stroke-width="0.5"/>
<text x="568" y="298.6" font-family="Liberation Sans" font-size="10" font-weight="normal" text-anchor="middle" fill="#000" textLength="26" lengthAdjust="spacingAndGlyphs" stroke="#000" stroke-width="0.42">Bath 1</text>
<line x1="555.0" y1="300.3" x2="582.0" y2="300.3" stroke="#444" stroke-width="0.8"/>
<text x="642.5" y="304.5" font-family="Liberation Sans" font-size="9.4" font-weight="normal" text-anchor="middle" fill="#000" textLength="23" lengthAdjust="spacingAndGlyphs" stroke="#000" stroke-width="0.42">W.I.C.</text>
<line x1="631.0" y1="306.2" x2="655.0" y2="306.2" stroke="#444" stroke-width="0.8"/>
<text x="622.5" y="388" font-family="Liberation Sans" font-size="10" font-weight="normal" text-anchor="middle" fill="#000" textLength="51" lengthAdjust="spacingAndGlyphs" stroke="#000" stroke-width="0.42">Bedroom 2</text>
<line x1="597.0" y1="389.7" x2="649.0" y2="389.7" stroke="#444" stroke-width="0.8"/>
<text x="622.5" y="396" font-family="Liberation Sans" font-size="6" font-weight="bold" text-anchor="middle" fill="#000" textLength="40" lengthAdjust="spacingAndGlyphs" stroke="#000" stroke-width="0.25">9'-4" Ceiling Ht.</text>
<text x="679" y="372" font-family="Liberation Sans" font-size="5" font-weight="bold" text-anchor="middle" fill="#000" transform="rotate(-90 679 372)" textLength="13" lengthAdjust="spacingAndGlyphs" stroke="#000" stroke-width="0.25">SH-25</text>
<text x="684" y="372" font-family="Liberation Sans" font-size="5" font-weight="bold" text-anchor="middle" fill="#000" transform="rotate(-90 684 372)" textLength="17" lengthAdjust="spacingAndGlyphs" stroke="#000" stroke-width="0.25">EGRESS</text>
<text x="646.9" y="498.25" font-family="Liberation Sans" font-size="9.4" font-weight="normal" text-anchor="middle" fill="#000" textLength="23.75" lengthAdjust="spacingAndGlyphs" stroke="#000" stroke-width="0.42">W.I.C.</text>
<line x1="635.025" y1="499.95" x2="659.775" y2="499.95" stroke="#444" stroke-width="0.8"/>
<text x="503.5" y="446.25" font-family="Liberation Sans" font-size="10" font-weight="normal" text-anchor="middle" fill="#000" textLength="25.5" lengthAdjust="spacingAndGlyphs" stroke="#000" stroke-width="0.42">Office</text>
<line x1="490.75" y1="447.95" x2="517.25" y2="447.95" stroke="#444" stroke-width="0.8"/>
<text x="503.5" y="454.25" font-family="Liberation Sans" font-size="6" font-weight="bold" text-anchor="middle" fill="#000" textLength="41" lengthAdjust="spacingAndGlyphs" stroke="#000" stroke-width="0.25">9'-4" Ceiling Ht.</text>
<line x1="438" y1="465.5" x2="676" y2="465.5" stroke="#1c1c1c" stroke-width="0.8"/>
<line x1="439.0" y1="468.5" x2="445.0" y2="462.5" stroke="#1c1c1c" stroke-width="0.95"/>
<line x1="554.5" y1="468.5" x2="560.5" y2="462.5" stroke="#1c1c1c" stroke-width="0.95"/>
<line x1="664.5" y1="468.5" x2="670.5" y2="462.5" stroke="#1c1c1c" stroke-width="0.95"/>
<text x="500" y="462" font-family="Liberation Sans" font-size="8.5" font-weight="normal" text-anchor="middle" fill="#1c1c1c" textLength="20" lengthAdjust="spacingAndGlyphs">10'-0"</text>
<text x="615" y="462" font-family="Liberation Sans" font-size="8.5" font-weight="normal" text-anchor="middle" fill="#1c1c1c" textLength="20" lengthAdjust="spacingAndGlyphs">10'-0"</text>
<text x="591" y="503.75" font-family="Liberation Sans" font-size="5.5" font-weight="bold" text-anchor="middle" fill="#000" textLength="28" lengthAdjust="spacingAndGlyphs" stroke="#000" stroke-width="0.25">STORAGE</text>
<line x1="438" y1="544" x2="676" y2="544" stroke="#1c1c1c" stroke-width="0.8"/>
<line x1="439.0" y1="547.0" x2="445.0" y2="541.0" stroke="#1c1c1c" stroke-width="0.95"/>
<line x1="554.5" y1="547.0" x2="560.5" y2="541.0" stroke="#1c1c1c" stroke-width="0.95"/>
<line x1="611.5" y1="547.0" x2="617.5" y2="541.0" stroke="#1c1c1c" stroke-width="0.95"/>
<line x1="664.5" y1="547.0" x2="670.5" y2="541.0" stroke="#1c1c1c" stroke-width="0.95"/>
<line x1="442" y1="527" x2="442" y2="548" stroke="#1c1c1c" stroke-width="0.8"/>
<line x1="557.5" y1="527" x2="557.5" y2="548" stroke="#1c1c1c" stroke-width="0.8"/>
<line x1="614.5" y1="527" x2="614.5" y2="548" stroke="#1c1c1c" stroke-width="0.8"/>
<text x="500" y="540" font-family="Liberation Sans" font-size="8.5" font-weight="normal" text-anchor="middle" fill="#1c1c1c" textLength="20" lengthAdjust="spacingAndGlyphs">10'-0"</text>
<text x="586" y="540" font-family="Liberation Sans" font-size="8.5" font-weight="normal" text-anchor="middle" fill="#1c1c1c" textLength="16.5" lengthAdjust="spacingAndGlyphs">5'-0"</text>
<text x="644" y="540" font-family="Liberation Sans" font-size="8.5" font-weight="normal" text-anchor="middle" fill="#1c1c1c" textLength="16.5" lengthAdjust="spacingAndGlyphs">5'-0"</text>
<line x1="462.5" y1="523" x2="462.5" y2="600" stroke="#1c1c1c" stroke-width="0.8"/>
<line x1="459.5" y1="524.0" x2="465.5" y2="530.0" stroke="#1c1c1c" stroke-width="0.95"/>
<line x1="459.5" y1="593.0" x2="465.5" y2="599.0" stroke="#1c1c1c" stroke-width="0.95"/>
<text x="459.5" y="561" font-family="Liberation Sans" font-size="8.5" font-weight="normal" text-anchor="middle" fill="#1c1c1c" transform="rotate(-90 459.5 561)" textLength="16.5" lengthAdjust="spacingAndGlyphs">6'-0"</text>
<line x1="445" y1="596" x2="467.5" y2="596" stroke="#1c1c1c" stroke-width="0.8"/>
<text x="311.75" y="535" font-family="Liberation Sans" font-size="10" font-weight="normal" text-anchor="middle" fill="#000" textLength="55" lengthAdjust="spacingAndGlyphs" stroke="#000" stroke-width="0.42">Great Room</text>
<line x1="284.25" y1="536.7" x2="340.25" y2="536.7" stroke="#444" stroke-width="0.8"/>
<text x="312.5" y="542.8" font-family="Liberation Sans" font-size="6" font-weight="bold" text-anchor="middle" fill="#000" textLength="40" lengthAdjust="spacingAndGlyphs" stroke="#000" stroke-width="0.25">Vaulted Ceiling</text>
<text x="207.5" y="466" font-family="Liberation Sans" font-size="5" font-weight="bold" text-anchor="middle" fill="#000" transform="rotate(-90 207.5 466)" textLength="13" lengthAdjust="spacingAndGlyphs" stroke="#000" stroke-width="0.25">SH-25</text>
<text x="207.5" y="507.5" font-family="Liberation Sans" font-size="5" font-weight="bold" text-anchor="middle" fill="#000" transform="rotate(-90 207.5 507.5)" textLength="13" lengthAdjust="spacingAndGlyphs" stroke="#000" stroke-width="0.25">SH-25</text>
<text x="207.5" y="547.5" font-family="Liberation Sans" font-size="5" font-weight="bold" text-anchor="middle" fill="#000" transform="rotate(-90 207.5 547.5)" textLength="13" lengthAdjust="spacingAndGlyphs" stroke="#000" stroke-width="0.25">SH-25</text>
<text x="208" y="684" font-family="Liberation Sans" font-size="5" font-weight="bold" text-anchor="middle" fill="#000" transform="rotate(-90 208 684)" textLength="13" lengthAdjust="spacingAndGlyphs" stroke="#000" stroke-width="0.25">SH-25</text>
<text x="208" y="776" font-family="Liberation Sans" font-size="5" font-weight="bold" text-anchor="middle" fill="#000" transform="rotate(-90 208 776)" textLength="13" lengthAdjust="spacingAndGlyphs" stroke="#000" stroke-width="0.25">SH-25</text>
<text x="323" y="709.5" font-family="Liberation Sans" font-size="10" font-weight="normal" text-anchor="middle" fill="#000" textLength="76" lengthAdjust="spacingAndGlyphs" stroke="#000" stroke-width="0.42">Two Car Garage</text>
<line x1="285.0" y1="711.2" x2="362.0" y2="711.2" stroke="#444" stroke-width="0.8"/>
<text x="317.75" y="717.8" font-family="Liberation Sans" font-size="6" font-weight="bold" text-anchor="middle" fill="#000" textLength="40.5" lengthAdjust="spacingAndGlyphs" stroke="#000" stroke-width="0.25">8'-4" Ceiling Ht.</text>
<rect x="235" y="741.5" width="184" height="79" fill="none" stroke="#444" stroke-width="0.55" stroke-dasharray="1,1"/>
<text x="325.7" y="802" font-family="Liberation Sans" font-size="4.6" font-weight="bold" text-anchor="middle" fill="#000" textLength="30" lengthAdjust="spacingAndGlyphs" stroke="#000" stroke-width="0.25">16'X7' OH.G.D.</text>
<text x="325.7" y="806.9" font-family="Liberation Sans" font-size="4.6" font-weight="bold" text-anchor="middle" fill="#000" textLength="36.5" lengthAdjust="spacingAndGlyphs" stroke="#000" stroke-width="0.25">MUST BE ABLE TO</text>
<text x="325.7" y="811.8" font-family="Liberation Sans" font-size="4.6" font-weight="bold" text-anchor="middle" fill="#000" textLength="31" lengthAdjust="spacingAndGlyphs" stroke="#000" stroke-width="0.25">RESIST 130 MPH</text>
<text x="325.7" y="816.7" font-family="Liberation Sans" font-size="4.6" font-weight="bold" text-anchor="middle" fill="#000" textLength="46" lengthAdjust="spacingAndGlyphs" stroke="#000" stroke-width="0.25">WIND 3 SECOND GUSTS</text>
<line x1="462.6" y1="592" x2="462.6" y2="722" stroke="#1c1c1c" stroke-width="0.8"/>
<line x1="459.6" y1="593.0" x2="465.6" y2="599.0" stroke="#1c1c1c" stroke-width="0.95"/>
<text x="460" y="660" font-family="Liberation Sans" font-size="8.5" font-weight="normal" text-anchor="middle" fill="#1c1c1c" transform="rotate(-90 460 660)" textLength="20" lengthAdjust="spacingAndGlyphs">11'-0"</text>
<text x="548.85" y="620" font-family="Liberation Sans" font-size="10" font-weight="normal" text-anchor="middle" fill="#000" textLength="54" lengthAdjust="spacingAndGlyphs" stroke="#000" stroke-width="0.42">Living Room</text>
<line x1="521.85" y1="621.7" x2="576.85" y2="621.7" stroke="#444" stroke-width="0.8"/>
<text x="548.85" y="631" font-family="Liberation Sans" font-size="6" font-weight="bold" text-anchor="middle" fill="#000" textLength="39" lengthAdjust="spacingAndGlyphs" stroke="#000" stroke-width="0.25">Vaulted Ceiling</text>
<text x="680" y="594" font-family="Liberation Sans" font-size="5" font-weight="bold" text-anchor="middle" fill="#000" transform="rotate(-90 680 594)" textLength="13" lengthAdjust="spacingAndGlyphs" stroke="#000" stroke-width="0.25">SH-25</text>
<text x="680" y="634.7" font-family="Liberation Sans" font-size="5" font-weight="bold" text-anchor="middle" fill="#000" transform="rotate(-90 680 634.7)" textLength="13" lengthAdjust="spacingAndGlyphs" stroke="#000" stroke-width="0.25">SH-25</text>
<text x="680" y="675" font-family="Liberation Sans" font-size="5" font-weight="bold" text-anchor="middle" fill="#000" transform="rotate(-90 680 675)" textLength="13" lengthAdjust="spacingAndGlyphs" stroke="#000" stroke-width="0.25">SH-25</text>
<text x="552" y="729.5" font-family="Liberation Sans" font-size="5" font-weight="bold" text-anchor="middle" fill="#000" textLength="13" lengthAdjust="spacingAndGlyphs" stroke="#000" stroke-width="0.25">SH-25</text>
<text x="596" y="729.5" font-family="Liberation Sans" font-size="5" font-weight="bold" text-anchor="middle" fill="#000" textLength="13" lengthAdjust="spacingAndGlyphs" stroke="#000" stroke-width="0.25">SH-25</text>
<text x="635" y="729.5" font-family="Liberation Sans" font-size="5" font-weight="bold" text-anchor="middle" fill="#000" textLength="13" lengthAdjust="spacingAndGlyphs" stroke="#000" stroke-width="0.25">SH-25</text>
<text x="552" y="752.4" font-family="Liberation Sans" font-size="10" font-weight="normal" text-anchor="middle" fill="#000" textLength="54" lengthAdjust="spacingAndGlyphs" stroke="#000" stroke-width="0.42">Entry Porch</text>
<line x1="525.0" y1="754.1" x2="580.0" y2="754.1" stroke="#444" stroke-width="0.8"/>
<text x="552" y="761" font-family="Liberation Sans" font-size="6" font-weight="bold" text-anchor="middle" fill="#000" textLength="45.5" lengthAdjust="spacingAndGlyphs" stroke="#000" stroke-width="0.25">Ceiling Ht. Varies</text>
<line x1="443" y1="780.5" x2="673" y2="780.5" stroke="#1c1c1c" stroke-width="0.8"/>
<line x1="672.5" y1="722.5" x2="672.5" y2="780.5" stroke="#1c1c1c" stroke-width="0.8"/>
<line x1="443" y1="722.5" x2="443" y2="830" stroke="#1c1c1c" stroke-width="0.8"/>
<rect x="503.5" y="765" width="16" height="15.5" fill="#f4f4f4" stroke="#555" stroke-width="0.5"/>
<circle cx="511.5" cy="773" r="5.5" fill="none" stroke="#1c1c1c" stroke-width="0.7"/>
<circle cx="511.5" cy="773" r="3.8" fill="none" stroke="#1c1c1c" stroke-width="0.5"/>
<line x1="507.7" y1="769.2" x2="515.3" y2="776.8" stroke="#1c1c1c" stroke-width="0.5"/>
<line x1="507.7" y1="776.8" x2="515.3" y2="769.2" stroke="#1c1c1c" stroke-width="0.5"/>
<rect x="584" y="765" width="16" height="15.5" fill="#f4f4f4" stroke="#555" stroke-width="0.5"/>
<circle cx="592" cy="773" r="5.5" fill="none" stroke="#1c1c1c" stroke-width="0.7"/>
<circle cx="592" cy="773" r="3.8" fill="none" stroke="#1c1c1c" stroke-width="0.5"/>
<line x1="588.2" y1="769.2" x2="595.8" y2="776.8" stroke="#1c1c1c" stroke-width="0.5"/>
<line x1="588.2" y1="776.8" x2="595.8" y2="769.2" stroke="#1c1c1c" stroke-width="0.5"/>
<rect x="657" y="765" width="16" height="15.5" fill="#f4f4f4" stroke="#555" stroke-width="0.5"/>
<circle cx="665" cy="773" r="5.5" fill="none" stroke="#1c1c1c" stroke-width="0.7"/>
<circle cx="665" cy="773" r="3.8" fill="none" stroke="#1c1c1c" stroke-width="0.5"/>
<line x1="661.2" y1="769.2" x2="668.8" y2="776.8" stroke="#1c1c1c" stroke-width="0.5"/>
<line x1="661.2" y1="776.8" x2="668.8" y2="769.2" stroke="#1c1c1c" stroke-width="0.5"/>
<polyline points="590,777 569,830.5 563,830.5" fill="none" stroke="#1c1c1c" stroke-width="0.7"/>
<text x="541" y="833" font-family="Liberation Sans" font-size="4.6" font-weight="bold" text-anchor="middle" fill="#000" textLength="34" lengthAdjust="spacingAndGlyphs" stroke="#000" stroke-width="0.25">PT 6"X6" COLUMN</text>
<text x="541" y="838.5" font-family="Liberation Sans" font-size="4.6" font-weight="bold" text-anchor="middle" fill="#000" textLength="38" lengthAdjust="spacingAndGlyphs" stroke="#000" stroke-width="0.25">ATT. SIMPSON BOTT.</text>
<text x="541" y="844" font-family="Liberation Sans" font-size="4.6" font-weight="bold" text-anchor="middle" fill="#000" textLength="19" lengthAdjust="spacingAndGlyphs" stroke="#000" stroke-width="0.25">(TYPICAL)</text>
<text x="254" y="189" font-family="Liberation Sans" font-size="9.4" font-weight="normal" text-anchor="middle" fill="#000" textLength="23" lengthAdjust="spacingAndGlyphs" stroke="#000" stroke-width="0.42">W.I.C.</text>
<line x1="242.5" y1="190.7" x2="266.5" y2="190.7" stroke="#444" stroke-width="0.8"/>
<text x="372" y="198.6" font-family="Liberation Sans" font-size="10" font-weight="normal" text-anchor="middle" fill="#000" textLength="62.5" lengthAdjust="spacingAndGlyphs" stroke="#000" stroke-width="0.42">Master's Suite</text>
<line x1="340.75" y1="200.29999999999998" x2="404.25" y2="200.29999999999998" stroke="#444" stroke-width="0.8"/>
<text x="372" y="206.6" font-family="Liberation Sans" font-size="6" font-weight="bold" text-anchor="middle" fill="#000" textLength="41" lengthAdjust="spacingAndGlyphs" stroke="#000" stroke-width="0.25">9'-0" Ceiling Ht.</text>
<path d="M484.97,139.01 A34.00,34.00 0 0 1 476.00,116.00" fill="none" stroke="#1c1c1c" stroke-width="0.6" stroke-dasharray="1.4,0.7"/>
<line x1="510" y1="116" x2="484.97" y2="139.01" stroke="#1c1c1c" stroke-width="2.0"/>
<line x1="483.37" y1="137.41" x2="486.57" y2="140.61" stroke="#1c1c1c" stroke-width="0.9"/>
<line x1="483.37" y1="140.61" x2="486.57" y2="137.41" stroke="#1c1c1c" stroke-width="0.9"/>
<path d="M258.78,231.91 A29.50,29.50 0 0 0 250.50,252.40" fill="none" stroke="#1c1c1c" stroke-width="0.6" stroke-dasharray="1.4,0.7"/>
<line x1="280" y1="252.4" x2="258.78" y2="231.91" stroke="#1c1c1c" stroke-width="2.0"/>
<line x1="257.18" y1="230.31" x2="260.38" y2="233.51" stroke="#1c1c1c" stroke-width="0.9"/>
<line x1="257.18" y1="233.51" x2="260.38" y2="230.31" stroke="#1c1c1c" stroke-width="0.9"/>
<path d="M264.80,281.40 A28.00,28.00 0 0 1 245.00,289.60" fill="none" stroke="#1c1c1c" stroke-width="0.6" stroke-dasharray="1.4,0.7"/>
<line x1="245" y1="261.6" x2="264.8" y2="281.4" stroke="#1c1c1c" stroke-width="2.0"/>
<line x1="263.2" y1="279.8" x2="266.4" y2="283.0" stroke="#1c1c1c" stroke-width="0.9"/>
<line x1="263.2" y1="283.0" x2="266.4" y2="279.8" stroke="#1c1c1c" stroke-width="0.9"/>
<path d="M303.15,274.14 A29.00,29.00 0 0 0 283.00,266.00" fill="none" stroke="#1c1c1c" stroke-width="0.6" stroke-dasharray="1.4,0.7"/>
<line x1="283" y1="295" x2="303.15" y2="274.14" stroke="#1c1c1c" stroke-width="2.0"/>
<line x1="301.55" y1="272.54" x2="304.75" y2="275.74" stroke="#1c1c1c" stroke-width="0.9"/>
<line x1="301.55" y1="275.74" x2="304.75" y2="272.54" stroke="#1c1c1c" stroke-width="0.9"/>
<path d="M421.61,273.14 A32.00,32.00 0 0 1 444.00,264.00" fill="none" stroke="#1c1c1c" stroke-width="0.6" stroke-dasharray="1.4,0.7"/>
<line x1="444" y1="296" x2="421.61" y2="273.14" stroke="#1c1c1c" stroke-width="2.0"/>
<line x1="420.01" y1="271.54" x2="423.21" y2="274.74" stroke="#1c1c1c" stroke-width="0.9"/>
<line x1="420.01" y1="274.74" x2="423.21" y2="271.54" stroke="#1c1c1c" stroke-width="0.9"/>
<path d="M487.62,227.25 A30.50,30.50 0 0 0 478.50,249.00" fill="none" stroke="#1c1c1c" stroke-width="0.6" stroke-dasharray="1.4,0.7"/>
<line x1="509" y1="249" x2="487.62" y2="227.25" stroke="#1c1c1c" stroke-width="2.0"/>
<line x1="486.02" y1="225.65" x2="489.22" y2="228.85" stroke="#1c1c1c" stroke-width="0.9"/>
<line x1="486.02" y1="228.85" x2="489.22" y2="225.65" stroke="#1c1c1c" stroke-width="0.9"/>
<path d="M537.03,226.44 A30.50,30.50 0 0 1 547.00,249.00" fill="none" stroke="#1c1c1c" stroke-width="0.6" stroke-dasharray="1.4,0.7"/>
<line x1="516.5" y1="249" x2="537.03" y2="226.44" stroke="#1c1c1c" stroke-width="2.0"/>
<line x1="535.43" y1="224.84" x2="538.63" y2="228.04" stroke="#1c1c1c" stroke-width="0.9"/>
<line x1="535.43" y1="228.04" x2="538.63" y2="224.84" stroke="#1c1c1c" stroke-width="0.9"/>
<path d="M644.66,228.64 A29.50,29.50 0 0 0 635.50,250.00" fill="none" stroke="#1c1c1c" stroke-width="0.6" stroke-dasharray="1.4,0.7"/>
<line x1="665" y1="250" x2="644.66" y2="228.64" stroke="#1c1c1c" stroke-width="2.0"/>
<line x1="643.06" y1="227.04" x2="646.26" y2="230.24" stroke="#1c1c1c" stroke-width="0.9"/>
<line x1="643.06" y1="230.24" x2="646.26" y2="227.04" stroke="#1c1c1c" stroke-width="0.9"/>
<path d="M573.81,314.96 A32.50,32.50 0 0 0 551.40,306.00" fill="none" stroke="#1c1c1c" stroke-width="0.6" stroke-dasharray="1.4,0.7"/>
<line x1="551.4" y1="338.5" x2="573.81" y2="314.96" stroke="#1c1c1c" stroke-width="2.0"/>
<line x1="572.21" y1="313.36" x2="575.41" y2="316.56" stroke="#1c1c1c" stroke-width="0.9"/>
<line x1="572.21" y1="316.56" x2="575.41" y2="313.36" stroke="#1c1c1c" stroke-width="0.9"/>
<path d="M580.30,367.83 A30.50,30.50 0 0 1 559.00,376.50" fill="none" stroke="#1c1c1c" stroke-width="0.6" stroke-dasharray="1.4,0.7"/>
<line x1="559" y1="346" x2="580.3" y2="367.83" stroke="#1c1c1c" stroke-width="2.0"/>
<line x1="578.7" y1="366.23" x2="581.9" y2="369.43" stroke="#1c1c1c" stroke-width="0.9"/>
<line x1="578.7" y1="369.43" x2="581.9" y2="366.23" stroke="#1c1c1c" stroke-width="0.9"/>
<path d="M530.85,424.25 A32.50,32.50 0 0 1 522.50,402.50" fill="none" stroke="#1c1c1c" stroke-width="0.6" stroke-dasharray="1.4,0.7"/>
<line x1="555" y1="402.5" x2="530.85" y2="424.25" stroke="#1c1c1c" stroke-width="2.0"/>
<line x1="529.25" y1="422.65" x2="532.45" y2="425.85" stroke="#1c1c1c" stroke-width="0.9"/>
<line x1="529.25" y1="425.85" x2="532.45" y2="422.65" stroke="#1c1c1c" stroke-width="0.9"/>
<path d="M474.31,358.19 A30.50,30.50 0 0 0 467.00,378.00" fill="none" stroke="#1c1c1c" stroke-width="0.6" stroke-dasharray="1.4,0.7"/>
<line x1="497.5" y1="378" x2="474.31" y2="358.19" stroke="#1c1c1c" stroke-width="2.0"/>
<line x1="472.71" y1="356.59" x2="475.91" y2="359.79" stroke="#1c1c1c" stroke-width="0.9"/>
<line x1="472.71" y1="359.79" x2="475.91" y2="356.59" stroke="#1c1c1c" stroke-width="0.9"/>
<path d="M538.33,499.38 A28.50,28.50 0 0 1 559.00,490.50" fill="none" stroke="#1c1c1c" stroke-width="0.6" stroke-dasharray="1.4,0.7"/>
<line x1="559" y1="519" x2="538.33" y2="499.38" stroke="#1c1c1c" stroke-width="2.0"/>
<line x1="536.73" y1="497.78" x2="539.93" y2="500.98" stroke="#1c1c1c" stroke-width="0.9"/>
<line x1="536.73" y1="500.98" x2="539.93" y2="497.78" stroke="#1c1c1c" stroke-width="0.9"/>
<path d="M639.64,462.16 A29.50,29.50 0 0 0 631.50,482.50" fill="none" stroke="#1c1c1c" stroke-width="0.6" stroke-dasharray="1.4,0.7"/>
<line x1="661" y1="482.5" x2="639.64" y2="462.16" stroke="#1c1c1c" stroke-width="2.0"/>
<line x1="638.04" y1="460.56" x2="641.24" y2="463.76" stroke="#1c1c1c" stroke-width="0.9"/>
<line x1="638.04" y1="463.76" x2="641.24" y2="460.56" stroke="#1c1c1c" stroke-width="0.9"/>
<path d="M238.33,631.33 A33.00,33.00 0 0 1 215.00,641.00" fill="none" stroke="#1c1c1c" stroke-width="0.6" stroke-dasharray="1.4,0.7"/>
<line x1="215" y1="608" x2="238.33" y2="631.33" stroke="#1c1c1c" stroke-width="2.0"/>
<line x1="236.73" y1="629.73" x2="239.93" y2="632.93" stroke="#1c1c1c" stroke-width="0.9"/>
<line x1="236.73" y1="632.93" x2="239.93" y2="629.73" stroke="#1c1c1c" stroke-width="0.9"/>
<path d="M404.15,621.00 A33.00,33.00 0 0 1 395.75,599.00" fill="none" stroke="#1c1c1c" stroke-width="0.6" stroke-dasharray="1.4,0.7"/>
<line x1="428.75" y1="599" x2="404.15" y2="621.0" stroke="#1c1c1c" stroke-width="2.0"/>
<line x1="402.55" y1="619.4" x2="405.75" y2="622.6" stroke="#1c1c1c" stroke-width="0.9"/>
<line x1="402.55" y1="622.6" x2="405.75" y2="619.4" stroke="#1c1c1c" stroke-width="0.9"/>
<path d="M477.59,696.42 A33.00,33.00 0 0 1 487.50,720.00" fill="none" stroke="#1c1c1c" stroke-width="0.6" stroke-dasharray="1.4,0.7"/>
<line x1="454.5" y1="720" x2="477.59" y2="696.42" stroke="#1c1c1c" stroke-width="2.0"/>
<line x1="475.99" y1="694.82" x2="479.19" y2="698.02" stroke="#1c1c1c" stroke-width="0.9"/>
<line x1="475.99" y1="698.02" x2="479.19" y2="694.82" stroke="#1c1c1c" stroke-width="0.9"/>
<text x="263" y="255" font-family="Liberation Sans" font-size="6" font-weight="bold" text-anchor="middle" fill="#000" textLength="13.5" lengthAdjust="spacingAndGlyphs" stroke="#000" stroke-width="0.25">2668</text>
<text x="247.4" y="281.5" font-family="Liberation Sans" font-size="6" font-weight="bold" text-anchor="middle" fill="#000" textLength="13.5" lengthAdjust="spacingAndGlyphs" stroke="#000" stroke-width="0.25">2668</text>
<text x="287.7" y="278" font-family="Liberation Sans" font-size="6" font-weight="bold" text-anchor="middle" fill="#000" textLength="13.5" lengthAdjust="spacingAndGlyphs" stroke="#000" stroke-width="0.25">2668</text>
<text x="443" y="280" font-family="Liberation Sans" font-size="6" font-weight="bold" text-anchor="middle" fill="#000" textLength="13.5" lengthAdjust="spacingAndGlyphs" stroke="#000" stroke-width="0.25">2668</text>
<text x="493.4" y="249.5" font-family="Liberation Sans" font-size="6" font-weight="bold" text-anchor="middle" fill="#000" textLength="13.5" lengthAdjust="spacingAndGlyphs" stroke="#000" stroke-width="0.25">2668</text>
<text x="533.6" y="249.5" font-family="Liberation Sans" font-size="6" font-weight="bold" text-anchor="middle" fill="#000" textLength="13.5" lengthAdjust="spacingAndGlyphs" stroke="#000" stroke-width="0.25">2668</text>
<text x="648.75" y="252" font-family="Liberation Sans" font-size="6" font-weight="bold" text-anchor="middle" fill="#000" textLength="13.5" lengthAdjust="spacingAndGlyphs" stroke="#000" stroke-width="0.25">2668</text>
<text x="549.5" y="321.5" font-family="Liberation Sans" font-size="6" font-weight="bold" text-anchor="middle" fill="#000" textLength="13.5" lengthAdjust="spacingAndGlyphs" stroke="#000" stroke-width="0.25">2668</text>
<text x="560" y="366.5" font-family="Liberation Sans" font-size="6" font-weight="bold" text-anchor="middle" fill="#000" textLength="13.5" lengthAdjust="spacingAndGlyphs" stroke="#000" stroke-width="0.25">2668</text>
<text x="535.5" y="402.5" font-family="Liberation Sans" font-size="6" font-weight="bold" text-anchor="middle" fill="#000" textLength="13.5" lengthAdjust="spacingAndGlyphs" stroke="#000" stroke-width="0.25">2668</text>
<text x="477.5" y="374" font-family="Liberation Sans" font-size="6" font-weight="bold" text-anchor="middle" fill="#000" textLength="13.5" lengthAdjust="spacingAndGlyphs" stroke="#000" stroke-width="0.25">2668</text>
<text x="559" y="504" font-family="Liberation Sans" font-size="6" font-weight="bold" text-anchor="middle" fill="#000" textLength="13.5" lengthAdjust="spacingAndGlyphs" stroke="#000" stroke-width="0.25">2668</text>
<text x="645" y="484.5" font-family="Liberation Sans" font-size="6" font-weight="bold" text-anchor="middle" fill="#000" textLength="13.5" lengthAdjust="spacingAndGlyphs" stroke="#000" stroke-width="0.25">2668</text>
<rect x="476.5" y="113" width="33" height="5.5" fill="#fff"/>
<text x="493" y="117.8" font-family="Liberation Sans" font-size="5.5" font-weight="bold" text-anchor="middle" fill="#000" textLength="26" lengthAdjust="spacingAndGlyphs" stroke="#000" stroke-width="0.25">3068 EXT</text>
<text x="221" y="629.5" font-family="Liberation Sans" font-size="5.5" font-weight="bold" text-anchor="middle" fill="#000" textLength="12.5" lengthAdjust="spacingAndGlyphs" stroke="#000" stroke-width="0.25">3068</text>
<text x="221" y="636" font-family="Liberation Sans" font-size="5.5" font-weight="bold" text-anchor="middle" fill="#000" textLength="10" lengthAdjust="spacingAndGlyphs" stroke="#000" stroke-width="0.25">EXT</text>
<text x="410" y="598" font-family="Liberation Sans" font-size="5.5" font-weight="bold" text-anchor="middle" fill="#000" textLength="22" lengthAdjust="spacingAndGlyphs" stroke="#000" stroke-width="0.25">3068 SC</text>
<rect x="458" y="716.5" width="30" height="5.5" fill="#fff"/>
<text x="472" y="721.3" font-family="Liberation Sans" font-size="5.5" font-weight="bold" text-anchor="middle" fill="#000" textLength="26" lengthAdjust="spacingAndGlyphs" stroke="#000" stroke-width="0.25">3068 EXT</text>
</svg>
</body></html>
